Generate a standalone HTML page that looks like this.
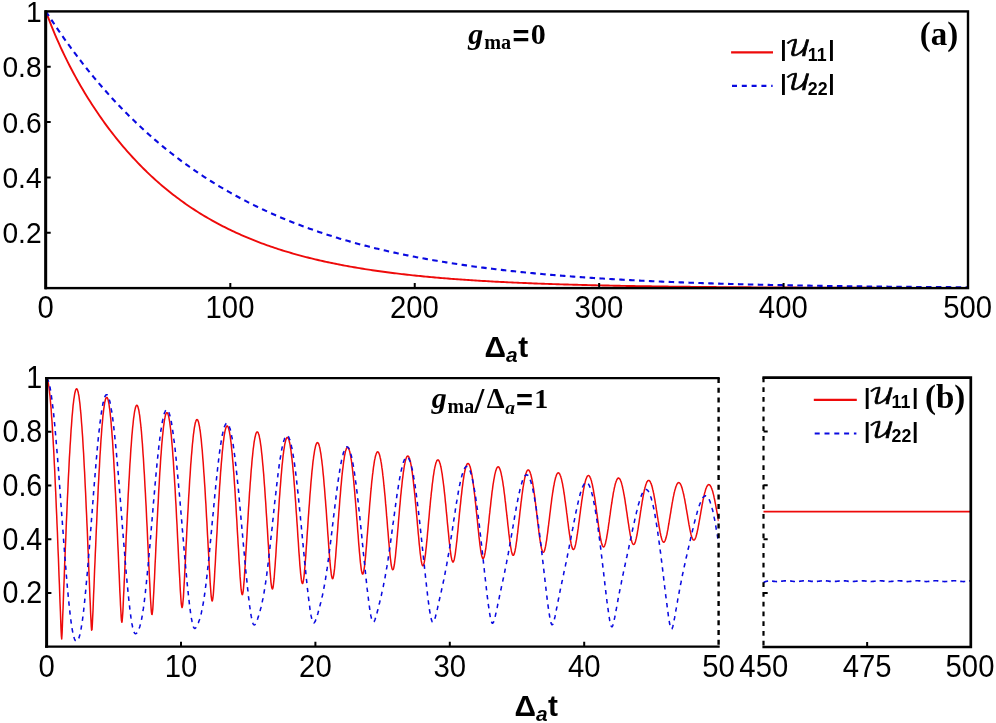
<!DOCTYPE html>
<html lang="en"><head><meta charset="utf-8"><title>Figure</title>
<style>
html,body{margin:0;padding:0;background:#fff;}
svg{display:block}
.tk{font-family:"Liberation Sans",Arial,sans-serif;font-size:29.3px;fill:#000}
.ax{font-family:"Liberation Sans",Arial,sans-serif;font-weight:bold;font-size:29.3px;fill:#000}
.ti{font-family:"Liberation Serif","Times New Roman",serif;font-weight:bold;fill:#000}
.lb{font-family:"Liberation Sans",Arial,sans-serif;font-weight:bold;font-size:22.8px;fill:#000}
.ls{font-family:"Liberation Sans",Arial,sans-serif;font-weight:bold;font-size:17.8px;fill:#000}
.sc{font-family:"DejaVu Math TeX Gyre","DejaVu Serif","Liberation Serif",serif;font-size:21.5px;fill:#000;stroke:#000;stroke-width:0.7px}
</style></head><body>
<svg width="996" height="723" viewBox="0 0 996 723">
<rect width="996" height="723" fill="#fff"/>
<clipPath id="ca"><rect x="45.9" y="11.4" width="922.1" height="276.70000000000005"/></clipPath>
<g clip-path="url(#ca)" fill="none">
<path d="M45.90,11.40 L47.74,16.38 L49.59,21.19 L51.43,25.86 L53.28,30.39 L55.12,34.79 L56.97,39.06 L58.81,43.23 L60.65,47.29 L62.50,51.25 L64.34,55.12 L66.19,58.89 L68.03,62.59 L69.87,66.20 L71.72,69.74 L73.56,73.21 L75.41,76.61 L77.25,79.94 L79.10,83.21 L80.94,86.41 L82.78,89.56 L84.63,92.65 L86.47,95.68 L88.32,98.67 L90.16,101.60 L92.00,104.47 L93.85,107.31 L95.69,110.09 L97.54,112.82 L99.38,115.52 L101.23,118.16 L103.07,120.77 L104.91,123.33 L106.76,125.85 L108.60,128.33 L110.45,130.77 L112.29,133.17 L114.14,135.54 L115.98,137.86 L117.82,140.15 L119.67,142.41 L121.51,144.63 L123.36,146.81 L125.20,148.97 L127.04,151.08 L128.89,153.17 L130.73,155.22 L132.58,157.24 L134.42,159.23 L136.27,161.19 L138.11,163.12 L139.95,165.02 L141.80,166.89 L143.64,168.74 L145.49,170.55 L147.33,172.34 L149.18,174.09 L151.02,175.83 L152.86,177.53 L154.71,179.21 L156.55,180.87 L158.40,182.50 L160.24,184.10 L162.08,185.68 L163.93,187.23 L165.77,188.77 L167.62,190.28 L169.46,191.76 L171.31,193.22 L173.15,194.67 L174.99,196.08 L176.84,197.48 L178.68,198.86 L180.53,200.21 L182.37,201.55 L184.22,202.86 L186.06,204.16 L187.90,205.43 L189.75,206.69 L191.59,207.92 L193.44,209.14 L195.28,210.34 L197.12,211.52 L198.97,212.68 L200.81,213.83 L202.66,214.96 L204.50,216.07 L206.35,217.16 L208.19,218.24 L210.03,219.30 L211.88,220.34 L213.72,221.37 L215.57,222.38 L217.41,223.38 L219.25,224.36 L221.10,225.33 L222.94,226.29 L224.79,227.22 L226.63,228.15 L228.48,229.06 L230.32,229.96 L232.16,230.84 L234.01,231.71 L235.85,232.56 L237.70,233.41 L239.54,234.24 L241.39,235.06 L243.23,235.86 L245.07,236.65 L246.92,237.44 L248.76,238.20 L250.61,238.96 L252.45,239.71 L254.29,240.44 L256.14,241.17 L257.98,241.88 L259.83,242.58 L261.67,243.27 L263.52,243.95 L265.36,244.62 L267.20,245.28 L269.05,245.93 L270.89,246.57 L272.74,247.20 L274.58,247.82 L276.43,248.44 L278.27,249.04 L280.11,249.63 L281.96,250.22 L283.80,250.79 L285.65,251.36 L287.49,251.92 L289.33,252.46 L291.18,253.01 L293.02,253.54 L294.87,254.06 L296.71,254.58 L298.56,255.09 L300.40,255.59 L302.24,256.08 L304.09,256.57 L305.93,257.05 L307.78,257.52 L309.62,257.98 L311.46,258.44 L313.31,258.89 L315.15,259.34 L317.00,259.77 L318.84,260.20 L320.69,260.63 L322.53,261.04 L324.37,261.45 L326.22,261.86 L328.06,262.26 L329.91,262.65 L331.75,263.04 L333.60,263.42 L335.44,263.79 L337.28,264.16 L339.13,264.52 L340.97,264.88 L342.82,265.23 L344.66,265.58 L346.50,265.92 L348.35,266.26 L350.19,266.59 L352.04,266.92 L353.88,267.24 L355.73,267.56 L357.57,267.87 L359.41,268.18 L361.26,268.48 L363.10,268.78 L364.95,269.07 L366.79,269.36 L368.63,269.64 L370.48,269.92 L372.32,270.20 L374.17,270.47 L376.01,270.74 L377.86,271.00 L379.70,271.26 L381.54,271.52 L383.39,271.77 L385.23,272.02 L387.08,272.26 L388.92,272.50 L390.77,272.74 L392.61,272.97 L394.45,273.20 L396.30,273.43 L398.14,273.65 L399.99,273.87 L401.83,274.09 L403.67,274.30 L405.52,274.51 L407.36,274.72 L409.21,274.92 L411.05,275.12 L412.90,275.32 L414.74,275.51 L416.58,275.70 L418.43,275.89 L420.27,276.07 L422.12,276.26 L423.96,276.44 L425.81,276.61 L427.65,276.79 L429.49,276.96 L431.34,277.13 L433.18,277.30 L435.03,277.46 L436.87,277.62 L438.71,277.78 L440.56,277.94 L442.40,278.09 L444.25,278.24 L446.09,278.39 L447.94,278.54 L449.78,278.69 L451.62,278.83 L453.47,278.97 L455.31,279.11 L457.16,279.24 L459.00,279.38 L460.84,279.51 L462.69,279.64 L464.53,279.77 L466.38,279.90 L468.22,280.02 L470.07,280.14 L471.91,280.26 L473.75,280.38 L475.60,280.50 L477.44,280.62 L479.29,280.73 L481.13,280.84 L482.98,280.95 L484.82,281.06 L486.66,281.17 L488.51,281.27 L490.35,281.38 L492.20,281.48 L494.04,281.58 L495.88,281.68 L497.73,281.78 L499.57,281.87 L501.42,281.97 L503.26,282.06 L505.11,282.15 L506.95,282.24 L508.79,282.33 L510.64,282.42 L512.48,282.50 L514.33,282.59 L516.17,282.67 L518.02,282.76 L519.86,282.84 L521.70,282.92 L523.55,282.99 L525.39,283.07 L527.24,283.15 L529.08,283.22 L530.92,283.30 L532.77,283.37 L534.61,283.44 L536.46,283.51 L538.30,283.58 L540.15,283.65 L541.99,283.72 L543.83,283.79 L545.68,283.85 L547.52,283.92 L549.37,283.98 L551.21,284.04 L553.05,284.10 L554.90,284.16 L556.74,284.22 L558.59,284.28 L560.43,284.34 L562.28,284.40 L564.12,284.45 L565.96,284.51 L567.81,284.56 L569.65,284.62 L571.50,284.67 L573.34,284.72 L575.19,284.77 L577.03,284.82 L578.87,284.87 L580.72,284.92 L582.56,284.97 L584.41,285.02 L586.25,285.07 L588.09,285.11 L589.94,285.16 L591.78,285.20 L593.63,285.25 L595.47,285.29 L597.32,285.33 L599.16,285.37 L601.00,285.42 L602.85,285.46 L604.69,285.50 L606.54,285.54 L608.38,285.57 L610.23,285.61 L612.07,285.65 L613.91,285.69 L615.76,285.72 L617.60,285.76 L619.45,285.80 L621.29,285.83 L623.13,285.87 L624.98,285.90 L626.82,285.93 L628.67,285.97 L630.51,286.00 L632.36,286.03 L634.20,286.06 L636.04,286.09 L637.89,286.12 L639.73,286.15 L641.58,286.18 L643.42,286.21 L645.26,286.24 L647.11,286.27 L648.95,286.30 L650.80,286.32 L652.64,286.35 L654.49,286.38 L656.33,286.40 L658.17,286.43 L660.02,286.45 L661.86,286.48 L663.71,286.50 L665.55,286.53 L667.40,286.55 L669.24,286.58 L671.08,286.60 L672.93,286.62 L674.77,286.64 L676.62,286.67 L678.46,286.69 L680.30,286.71 L682.15,286.73 L683.99,286.75 L685.84,286.77 L687.68,286.79 L689.53,286.81 L691.37,286.83 L693.21,286.85 L695.06,286.87 L696.90,286.89 L698.75,286.91 L700.59,286.92 L702.44,286.94 L704.28,286.96 L706.12,286.98 L707.97,286.99 L709.81,287.01 L711.66,287.03 L713.50,287.04 L715.34,287.06 L717.19,287.08 L719.03,287.09 L720.88,287.11 L722.72,287.12 L724.57,287.14 L726.41,287.15 L728.25,287.17 L730.10,287.18 L731.94,287.19 L733.79,287.21 L735.63,287.22 L737.48,287.23 L739.32,287.25 L741.16,287.26 L743.01,287.27 L744.85,287.29 L746.70,287.30 L748.54,287.31 L750.38,287.32 L752.23,287.33 L754.07,287.35 L755.92,287.36 L757.76,287.37 L759.61,287.38 L761.45,287.39 L763.29,287.40 L765.14,287.41 L766.98,287.42 L768.83,287.43 L770.67,287.44 L772.51,287.45 L774.36,287.46 L776.20,287.47 L778.05,287.48 L779.89,287.49 L781.74,287.50 L783.58,287.51 L785.42,287.52 L787.27,287.53 L789.11,287.54 L790.96,287.54 L792.80,287.55 L794.65,287.56 L796.49,287.57 L798.33,287.58 L800.18,287.59 L802.02,287.59 L803.87,287.60 L805.71,287.61 L807.55,287.62 L809.40,287.62 L811.24,287.63 L813.09,287.64 L814.93,287.64 L816.78,287.65 L818.62,287.66 L820.46,287.67 L822.31,287.67 L824.15,287.68 L826.00,287.68 L827.84,287.69 L829.68,287.70 L831.53,287.70 L833.37,287.71 L835.22,287.72 L837.06,287.72 L838.91,287.73 L840.75,287.73 L842.59,287.74 L844.44,287.74 L846.28,287.75 L848.13,287.75 L849.97,287.76 L851.82,287.76 L853.66,287.77 L855.50,287.77 L857.35,287.78 L859.19,287.78 L861.04,287.79 L862.88,287.79 L864.72,287.80 L866.57,287.80 L868.41,287.81 L870.26,287.81 L872.10,287.82 L873.95,287.82 L875.79,287.83 L877.63,287.83 L879.48,287.83 L881.32,287.84 L883.17,287.84 L885.01,287.85 L886.86,287.85 L888.70,287.85 L890.54,287.86 L892.39,287.86 L894.23,287.86 L896.08,287.87 L897.92,287.87 L899.76,287.87 L901.61,287.88 L903.45,287.88 L905.30,287.88 L907.14,287.89 L908.99,287.89 L910.83,287.89 L912.67,287.90 L914.52,287.90 L916.36,287.90 L918.21,287.91 L920.05,287.91 L921.89,287.91 L923.74,287.92 L925.58,287.92 L927.43,287.92 L929.27,287.92 L931.12,287.93 L932.96,287.93 L934.80,287.93 L936.65,287.93 L938.49,287.94 L940.34,287.94 L942.18,287.94 L944.03,287.94 L945.87,287.95 L947.71,287.95 L949.56,287.95 L951.40,287.95 L953.25,287.96 L955.09,287.96 L956.93,287.96 L958.78,287.96 L960.62,287.96 L962.47,287.97 L964.31,287.97 L966.16,287.97 L968.00,287.97" stroke="#ee0a0a" stroke-width="1.9"/>
<path d="M45.90,11.40 L47.74,14.26 L49.59,17.10 L51.43,19.91 L53.28,22.69 L55.12,25.44 L56.97,28.16 L58.81,30.86 L60.65,33.53 L62.50,36.18 L64.34,38.79 L66.19,41.39 L68.03,43.95 L69.87,46.49 L71.72,49.01 L73.56,51.50 L75.41,53.97 L77.25,56.41 L79.10,58.82 L80.94,61.22 L82.78,63.59 L84.63,65.93 L86.47,68.25 L88.32,70.55 L90.16,72.83 L92.00,75.08 L93.85,77.31 L95.69,79.52 L97.54,81.71 L99.38,83.87 L101.23,86.02 L103.07,88.14 L104.91,90.24 L106.76,92.32 L108.60,94.37 L110.45,96.41 L112.29,98.43 L114.14,100.43 L115.98,102.40 L117.82,104.36 L119.67,106.30 L121.51,108.21 L123.36,110.11 L125.20,111.99 L127.04,113.85 L128.89,115.69 L130.73,117.51 L132.58,119.32 L134.42,121.10 L136.27,122.87 L138.11,124.62 L139.95,126.35 L141.80,128.07 L143.64,129.77 L145.49,131.45 L147.33,133.11 L149.18,134.75 L151.02,136.38 L152.86,138.00 L154.71,139.59 L156.55,141.17 L158.40,142.74 L160.24,144.29 L162.08,145.82 L163.93,147.33 L165.77,148.84 L167.62,150.32 L169.46,151.79 L171.31,153.25 L173.15,154.69 L174.99,156.12 L176.84,157.53 L178.68,158.92 L180.53,160.31 L182.37,161.68 L184.22,163.03 L186.06,164.37 L187.90,165.70 L189.75,167.01 L191.59,168.31 L193.44,169.60 L195.28,170.87 L197.12,172.13 L198.97,173.38 L200.81,174.61 L202.66,175.83 L204.50,177.04 L206.35,178.24 L208.19,179.42 L210.03,180.60 L211.88,181.76 L213.72,182.90 L215.57,184.04 L217.41,185.16 L219.25,186.28 L221.10,187.38 L222.94,188.47 L224.79,189.55 L226.63,190.61 L228.48,191.67 L230.32,192.71 L232.16,193.75 L234.01,194.77 L235.85,195.78 L237.70,196.79 L239.54,197.78 L241.39,198.76 L243.23,199.73 L245.07,200.69 L246.92,201.64 L248.76,202.59 L250.61,203.52 L252.45,204.44 L254.29,205.35 L256.14,206.25 L257.98,207.15 L259.83,208.03 L261.67,208.91 L263.52,209.77 L265.36,210.63 L267.20,211.47 L269.05,212.31 L270.89,213.14 L272.74,213.96 L274.58,214.78 L276.43,215.58 L278.27,216.37 L280.11,217.16 L281.96,217.94 L283.80,218.71 L285.65,219.47 L287.49,220.23 L289.33,220.97 L291.18,221.71 L293.02,222.44 L294.87,223.17 L296.71,223.88 L298.56,224.59 L300.40,225.29 L302.24,225.98 L304.09,226.67 L305.93,227.35 L307.78,228.02 L309.62,228.68 L311.46,229.34 L313.31,229.99 L315.15,230.63 L317.00,231.27 L318.84,231.90 L320.69,232.52 L322.53,233.14 L324.37,233.75 L326.22,234.35 L328.06,234.95 L329.91,235.54 L331.75,236.12 L333.60,236.70 L335.44,237.27 L337.28,237.83 L339.13,238.39 L340.97,238.95 L342.82,239.49 L344.66,240.04 L346.50,240.57 L348.35,241.10 L350.19,241.63 L352.04,242.15 L353.88,242.66 L355.73,243.17 L357.57,243.67 L359.41,244.17 L361.26,244.66 L363.10,245.14 L364.95,245.63 L366.79,246.10 L368.63,246.57 L370.48,247.04 L372.32,247.50 L374.17,247.95 L376.01,248.40 L377.86,248.85 L379.70,249.29 L381.54,249.73 L383.39,250.16 L385.23,250.59 L387.08,251.01 L388.92,251.43 L390.77,251.84 L392.61,252.25 L394.45,252.65 L396.30,253.05 L398.14,253.45 L399.99,253.84 L401.83,254.23 L403.67,254.61 L405.52,254.99 L407.36,255.36 L409.21,255.73 L411.05,256.10 L412.90,256.46 L414.74,256.82 L416.58,257.18 L418.43,257.53 L420.27,257.87 L422.12,258.22 L423.96,258.56 L425.81,258.89 L427.65,259.22 L429.49,259.55 L431.34,259.88 L433.18,260.20 L435.03,260.52 L436.87,260.83 L438.71,261.14 L440.56,261.45 L442.40,261.75 L444.25,262.05 L446.09,262.35 L447.94,262.64 L449.78,262.94 L451.62,263.22 L453.47,263.51 L455.31,263.79 L457.16,264.07 L459.00,264.34 L460.84,264.61 L462.69,264.88 L464.53,265.15 L466.38,265.41 L468.22,265.67 L470.07,265.93 L471.91,266.19 L473.75,266.44 L475.60,266.69 L477.44,266.93 L479.29,267.18 L481.13,267.42 L482.98,267.66 L484.82,267.89 L486.66,268.12 L488.51,268.35 L490.35,268.58 L492.20,268.81 L494.04,269.03 L495.88,269.25 L497.73,269.47 L499.57,269.68 L501.42,269.90 L503.26,270.11 L505.11,270.32 L506.95,270.52 L508.79,270.73 L510.64,270.93 L512.48,271.13 L514.33,271.32 L516.17,271.52 L518.02,271.71 L519.86,271.90 L521.70,272.09 L523.55,272.27 L525.39,272.46 L527.24,272.64 L529.08,272.82 L530.92,273.00 L532.77,273.17 L534.61,273.35 L536.46,273.52 L538.30,273.69 L540.15,273.86 L541.99,274.02 L543.83,274.19 L545.68,274.35 L547.52,274.51 L549.37,274.67 L551.21,274.83 L553.05,274.98 L554.90,275.14 L556.74,275.29 L558.59,275.44 L560.43,275.59 L562.28,275.73 L564.12,275.88 L565.96,276.02 L567.81,276.16 L569.65,276.30 L571.50,276.44 L573.34,276.58 L575.19,276.72 L577.03,276.85 L578.87,276.98 L580.72,277.11 L582.56,277.24 L584.41,277.37 L586.25,277.50 L588.09,277.62 L589.94,277.75 L591.78,277.87 L593.63,277.99 L595.47,278.11 L597.32,278.23 L599.16,278.34 L601.00,278.46 L602.85,278.57 L604.69,278.69 L606.54,278.80 L608.38,278.91 L610.23,279.02 L612.07,279.12 L613.91,279.23 L615.76,279.34 L617.60,279.44 L619.45,279.54 L621.29,279.64 L623.13,279.75 L624.98,279.84 L626.82,279.94 L628.67,280.04 L630.51,280.14 L632.36,280.23 L634.20,280.32 L636.04,280.42 L637.89,280.51 L639.73,280.60 L641.58,280.69 L643.42,280.78 L645.26,280.87 L647.11,280.95 L648.95,281.04 L650.80,281.12 L652.64,281.21 L654.49,281.29 L656.33,281.37 L658.17,281.45 L660.02,281.53 L661.86,281.61 L663.71,281.69 L665.55,281.76 L667.40,281.84 L669.24,281.92 L671.08,281.99 L672.93,282.06 L674.77,282.14 L676.62,282.21 L678.46,282.28 L680.30,282.35 L682.15,282.42 L683.99,282.49 L685.84,282.55 L687.68,282.62 L689.53,282.69 L691.37,282.75 L693.21,282.82 L695.06,282.88 L696.90,282.94 L698.75,283.01 L700.59,283.07 L702.44,283.13 L704.28,283.19 L706.12,283.25 L707.97,283.31 L709.81,283.37 L711.66,283.42 L713.50,283.48 L715.34,283.54 L717.19,283.59 L719.03,283.65 L720.88,283.70 L722.72,283.75 L724.57,283.81 L726.41,283.86 L728.25,283.91 L730.10,283.96 L731.94,284.01 L733.79,284.06 L735.63,284.11 L737.48,284.16 L739.32,284.21 L741.16,284.25 L743.01,284.30 L744.85,284.35 L746.70,284.39 L748.54,284.44 L750.38,284.48 L752.23,284.53 L754.07,284.57 L755.92,284.62 L757.76,284.66 L759.61,284.70 L761.45,284.74 L763.29,284.78 L765.14,284.82 L766.98,284.86 L768.83,284.90 L770.67,284.94 L772.51,284.98 L774.36,285.02 L776.20,285.06 L778.05,285.10 L779.89,285.13 L781.74,285.17 L783.58,285.21 L785.42,285.24 L787.27,285.28 L789.11,285.31 L790.96,285.35 L792.80,285.38 L794.65,285.41 L796.49,285.45 L798.33,285.48 L800.18,285.51 L802.02,285.54 L803.87,285.58 L805.71,285.61 L807.55,285.64 L809.40,285.67 L811.24,285.70 L813.09,285.73 L814.93,285.76 L816.78,285.79 L818.62,285.81 L820.46,285.84 L822.31,285.87 L824.15,285.90 L826.00,285.93 L827.84,285.95 L829.68,285.98 L831.53,286.01 L833.37,286.03 L835.22,286.06 L837.06,286.08 L838.91,286.11 L840.75,286.13 L842.59,286.16 L844.44,286.18 L846.28,286.21 L848.13,286.23 L849.97,286.25 L851.82,286.28 L853.66,286.30 L855.50,286.32 L857.35,286.34 L859.19,286.37 L861.04,286.39 L862.88,286.41 L864.72,286.43 L866.57,286.45 L868.41,286.47 L870.26,286.49 L872.10,286.51 L873.95,286.53 L875.79,286.55 L877.63,286.57 L879.48,286.59 L881.32,286.61 L883.17,286.63 L885.01,286.65 L886.86,286.67 L888.70,286.68 L890.54,286.70 L892.39,286.72 L894.23,286.74 L896.08,286.75 L897.92,286.77 L899.76,286.79 L901.61,286.80 L903.45,286.82 L905.30,286.84 L907.14,286.85 L908.99,286.87 L910.83,286.88 L912.67,286.90 L914.52,286.91 L916.36,286.93 L918.21,286.94 L920.05,286.96 L921.89,286.97 L923.74,286.99 L925.58,287.00 L927.43,287.02 L929.27,287.03 L931.12,287.04 L932.96,287.06 L934.80,287.07 L936.65,287.08 L938.49,287.10 L940.34,287.11 L942.18,287.12 L944.03,287.13 L945.87,287.15 L947.71,287.16 L949.56,287.17 L951.40,287.18 L953.25,287.19 L955.09,287.21 L956.93,287.22 L958.78,287.23 L960.62,287.24 L962.47,287.25 L964.31,287.26 L966.16,287.27 L968.00,287.28" stroke="#0a0ae0" stroke-width="2.1" stroke-dasharray="5.5 4.4"/>
</g>
<rect x="45.9" y="11.4" width="922.1" height="276.70000000000005" fill="none" stroke="#000" stroke-width="2.4"/>
<path d="M45.65,10.200000000000001 V289.3" fill="none" stroke="#000" stroke-width="2.9"/>
<path d="M230.32,288.1 V283.1 M414.74,288.1 V283.1 M599.16,288.1 V283.1 M783.58,288.1 V283.1 M45.9,232.76 H50.699999999999996 M45.9,177.42 H50.699999999999996 M45.9,122.08 H50.699999999999996 M45.9,66.74 H50.699999999999996" stroke="#000" stroke-width="2" fill="none"/>
<text class="tk" transform="translate(41.6 22.0) scale(0.963 1.035)" text-anchor="end">1</text>
<text class="tk" transform="translate(41.6 77.3) scale(0.963 1.035)" text-anchor="end">0.8</text>
<text class="tk" transform="translate(41.6 132.7) scale(0.963 1.035)" text-anchor="end">0.6</text>
<text class="tk" transform="translate(41.6 188.0) scale(0.963 1.035)" text-anchor="end">0.4</text>
<text class="tk" transform="translate(41.6 243.4) scale(0.963 1.035)" text-anchor="end">0.2</text>
<text class="tk" transform="translate(45.6 318.4) scale(1.000 1.045)" text-anchor="middle">0</text>
<text class="tk" transform="translate(230.0 318.4) scale(1.000 1.045)" text-anchor="middle">100</text>
<text class="tk" transform="translate(414.4 318.4) scale(1.000 1.045)" text-anchor="middle">200</text>
<text class="tk" transform="translate(598.9 318.4) scale(1.000 1.045)" text-anchor="middle">300</text>
<text class="tk" transform="translate(783.3 318.4) scale(1.000 1.045)" text-anchor="middle">400</text>
<text class="tk" transform="translate(967.7 318.4) scale(1.000 1.045)" text-anchor="middle">500</text>
<text class="ax" transform="translate(484.6 356.6) scale(1.02 0.98)">Δ<tspan font-style="italic" font-size="20.5px" dy="5">a</tspan><tspan dy="-5" dx="0.5">t</tspan></text>
<text class="ti" y="43.8" font-size="30px"><tspan x="468.3" font-style="italic">g</tspan><tspan x="484.2" dy="4.8" font-size="20.2px">ma</tspan><tspan x="512.6" dy="-2.6" font-family="Liberation Sans" font-size="29px">=</tspan><tspan x="530.7" dy="-2.2" font-size="30px">0</tspan></text>
<text class="ti" x="919.7" y="45.3" font-size="33px">(a)</text>
<path d="M731.1,52.3 H773.0" stroke="#ee0a0a" stroke-width="2.3" fill="none"/>
<path d="M732.0,85.9 H772.6" stroke="#0a0ae0" stroke-width="2.1" stroke-dasharray="5 4.8" fill="none"/>
<text class="lb" x="780.3" y="55.9">|</text>
<text class="sc" transform="translate(784.9 56.0) scale(1.22 1)">𝒰</text>
<text class="ls" x="807.8" y="60.5">11</text>
<text class="lb" x="828.3" y="55.9">|</text>
<text class="lb" x="780.3" y="90.0">|</text>
<text class="sc" transform="translate(784.9 90.1) scale(1.22 1)">𝒰</text>
<text class="ls" x="807.8" y="94.6">22</text>
<text class="lb" x="828.3" y="90.0">|</text>
<clipPath id="cb"><rect x="46.6" y="378.1" width="672.0" height="268.6"/></clipPath>
<g clip-path="url(#cb)" fill="none" stroke-linejoin="round">
<path d="M46.6,378.1 L46.9,378.4 L47.3,379.1 L47.6,380.1 L47.9,381.4 L48.3,383.1 L48.6,385.0 L49.0,387.3 L49.3,389.9 L49.6,392.8 L50.0,396.0 L50.3,399.5 L50.6,403.3 L51.0,407.4 L51.3,411.8 L51.6,416.5 L52.0,421.4 L52.3,426.6 L52.6,432.1 L53.0,437.9 L53.3,443.8 L53.7,450.1 L54.0,456.5 L54.3,463.2 L54.7,470.1 L55.0,477.2 L55.3,484.5 L55.7,492.0 L56.0,499.7 L56.3,507.5 L56.7,515.6 L57.0,523.7 L57.4,532.0 L57.7,540.5 L58.0,549.0 L58.4,557.7 L58.7,566.4 L59.0,575.3 L59.4,584.2 L59.7,593.1 L60.0,602.1 L60.4,611.1 L60.7,619.9 L61.0,628.6 L61.4,636.2 L61.7,638.9 L62.1,633.3 L62.4,625.1 L62.7,616.3 L63.1,607.5 L63.4,598.6 L63.7,589.7 L64.1,580.8 L64.4,572.1 L64.7,563.4 L65.1,554.8 L65.4,546.4 L65.8,538.1 L66.1,529.9 L66.4,521.8 L66.8,513.9 L67.1,506.2 L67.4,498.7 L67.8,491.3 L68.1,484.1 L68.4,477.2 L68.8,470.4 L69.1,463.9 L69.4,457.6 L69.8,451.6 L70.1,445.7 L70.5,440.2 L70.8,434.9 L71.1,429.8 L71.5,425.1 L71.8,420.6 L72.1,416.3 L72.5,412.4 L72.8,408.8 L73.1,405.4 L73.5,402.4 L73.8,399.6 L74.2,397.2 L74.5,395.1 L74.8,393.2 L75.2,391.7 L75.5,390.5 L75.8,389.7 L76.2,389.1 L76.5,388.8 L76.8,388.9 L77.2,389.3 L77.5,390.0 L77.8,391.0 L78.2,392.3 L78.5,394.0 L78.9,395.9 L79.2,398.2 L79.5,400.7 L79.9,403.6 L80.2,406.7 L80.5,410.2 L80.9,413.9 L81.2,417.9 L81.5,422.2 L81.9,426.7 L82.2,431.5 L82.6,436.6 L82.9,442.0 L83.2,447.5 L83.6,453.3 L83.9,459.4 L84.2,465.7 L84.6,472.1 L84.9,478.8 L85.2,485.7 L85.6,492.8 L85.9,500.0 L86.2,507.4 L86.6,515.0 L86.9,522.7 L87.3,530.6 L87.6,538.6 L87.9,546.7 L88.3,554.8 L88.6,563.1 L88.9,571.4 L89.3,579.8 L89.6,588.2 L89.9,596.5 L90.3,604.7 L90.6,612.7 L91.0,620.1 L91.3,626.4 L91.6,630.2 L92.0,629.6 L92.3,625.1 L92.6,618.4 L93.0,610.9 L93.3,602.9 L93.6,594.7 L94.0,586.4 L94.3,578.2 L94.6,569.9 L95.0,561.7 L95.3,553.6 L95.7,545.6 L96.0,537.7 L96.3,529.9 L96.7,522.3 L97.0,514.8 L97.3,507.4 L97.7,500.2 L98.0,493.2 L98.3,486.4 L98.7,479.8 L99.0,473.4 L99.4,467.2 L99.7,461.3 L100.0,455.5 L100.4,450.0 L100.7,444.8 L101.0,439.8 L101.4,435.0 L101.7,430.5 L102.0,426.3 L102.4,422.4 L102.7,418.7 L103.0,415.3 L103.4,412.2 L103.7,409.4 L104.1,406.8 L104.4,404.6 L104.7,402.7 L105.1,401.0 L105.4,399.7 L105.7,398.6 L106.1,397.9 L106.4,397.5 L106.7,397.4 L107.1,397.5 L107.4,398.0 L107.8,398.8 L108.1,399.9 L108.4,401.3 L108.8,403.0 L109.1,405.0 L109.4,407.3 L109.8,409.8 L110.1,412.7 L110.4,415.8 L110.8,419.2 L111.1,422.9 L111.4,426.9 L111.8,431.1 L112.1,435.6 L112.5,440.3 L112.8,445.3 L113.1,450.5 L113.5,455.9 L113.8,461.6 L114.1,467.5 L114.5,473.6 L114.8,479.9 L115.1,486.4 L115.5,493.0 L115.8,499.9 L116.2,506.9 L116.5,514.0 L116.8,521.3 L117.2,528.7 L117.5,536.2 L117.8,543.9 L118.2,551.6 L118.5,559.3 L118.8,567.1 L119.2,574.9 L119.5,582.7 L119.8,590.3 L120.2,597.8 L120.5,604.9 L120.9,611.5 L121.2,617.1 L121.5,620.9 L121.9,622.3 L122.2,620.8 L122.5,616.8 L122.9,611.2 L123.2,604.6 L123.5,597.5 L123.9,590.1 L124.2,582.5 L124.6,574.8 L124.9,567.1 L125.2,559.5 L125.6,551.8 L125.9,544.3 L126.2,536.8 L126.6,529.5 L126.9,522.2 L127.2,515.1 L127.6,508.2 L127.9,501.4 L128.2,494.8 L128.6,488.3 L128.9,482.1 L129.3,476.0 L129.6,470.1 L129.9,464.5 L130.3,459.1 L130.6,453.9 L130.9,448.9 L131.3,444.2 L131.6,439.8 L131.9,435.6 L132.3,431.6 L132.6,427.9 L133.0,424.5 L133.3,421.3 L133.6,418.4 L134.0,415.8 L134.3,413.5 L134.6,411.5 L135.0,409.7 L135.3,408.3 L135.6,407.1 L136.0,406.2 L136.3,405.6 L136.6,405.3 L137.0,405.3 L137.3,405.6 L137.7,406.2 L138.0,407.1 L138.3,408.2 L138.7,409.7 L139.0,411.4 L139.3,413.4 L139.7,415.7 L140.0,418.3 L140.3,421.2 L140.7,424.3 L141.0,427.7 L141.4,431.3 L141.7,435.2 L142.0,439.4 L142.4,443.7 L142.7,448.4 L143.0,453.2 L143.4,458.3 L143.7,463.6 L144.0,469.1 L144.4,474.8 L144.7,480.8 L145.0,486.8 L145.4,493.1 L145.7,499.5 L146.1,506.1 L146.4,512.8 L146.7,519.7 L147.1,526.7 L147.4,533.7 L147.7,540.9 L148.1,548.1 L148.4,555.3 L148.7,562.6 L149.1,569.9 L149.4,577.0 L149.8,584.1 L150.1,590.9 L150.4,597.3 L150.8,603.2 L151.1,608.3 L151.4,612.2 L151.8,614.3 L152.1,614.5 L152.4,612.5 L152.8,608.9 L153.1,604.0 L153.4,598.2 L153.8,591.8 L154.1,585.1 L154.5,578.2 L154.8,571.1 L155.1,564.0 L155.5,556.8 L155.8,549.7 L156.1,542.6 L156.5,535.6 L156.8,528.7 L157.1,521.9 L157.5,515.2 L157.8,508.6 L158.2,502.2 L158.5,495.9 L158.8,489.9 L159.2,484.0 L159.5,478.2 L159.8,472.7 L160.2,467.4 L160.5,462.3 L160.8,457.4 L161.2,452.8 L161.5,448.3 L161.8,444.1 L162.2,440.2 L162.5,436.5 L162.9,433.1 L163.2,429.9 L163.5,426.9 L163.9,424.3 L164.2,421.9 L164.5,419.8 L164.9,417.9 L165.2,416.3 L165.5,415.0 L165.9,414.0 L166.2,413.3 L166.6,412.8 L166.9,412.7 L167.2,412.8 L167.6,413.2 L167.9,413.8 L168.2,414.8 L168.6,416.0 L168.9,417.5 L169.2,419.3 L169.6,421.3 L169.9,423.6 L170.2,426.2 L170.6,429.0 L170.9,432.1 L171.3,435.5 L171.6,439.1 L171.9,442.9 L172.3,447.0 L172.6,451.3 L172.9,455.8 L173.3,460.5 L173.6,465.5 L173.9,470.6 L174.3,475.9 L174.6,481.5 L175.0,487.2 L175.3,493.1 L175.6,499.1 L176.0,505.3 L176.3,511.6 L176.6,518.0 L177.0,524.5 L177.3,531.1 L177.6,537.8 L178.0,544.6 L178.3,551.4 L178.6,558.1 L179.0,564.8 L179.3,571.5 L179.7,577.9 L180.0,584.2 L180.3,590.1 L180.7,595.5 L181.0,600.2 L181.3,604.0 L181.7,606.5 L182.0,607.5 L182.3,607.0 L182.7,604.9 L183.0,601.5 L183.4,597.1 L183.7,591.9 L184.0,586.2 L184.4,580.1 L184.7,573.7 L185.0,567.2 L185.4,560.7 L185.7,554.0 L186.0,547.4 L186.4,540.7 L186.7,534.2 L187.0,527.7 L187.4,521.3 L187.7,515.0 L188.1,508.8 L188.4,502.8 L188.7,496.9 L189.1,491.1 L189.4,485.6 L189.7,480.2 L190.1,475.0 L190.4,470.0 L190.7,465.2 L191.1,460.6 L191.4,456.3 L191.8,452.1 L192.1,448.2 L192.4,444.5 L192.8,441.1 L193.1,437.8 L193.4,434.9 L193.8,432.2 L194.1,429.7 L194.4,427.5 L194.8,425.6 L195.1,423.9 L195.4,422.5 L195.8,421.4 L196.1,420.5 L196.5,419.9 L196.8,419.6 L197.1,419.5 L197.5,419.8 L197.8,420.2 L198.1,421.0 L198.5,422.0 L198.8,423.3 L199.1,424.8 L199.5,426.6 L199.8,428.7 L200.2,431.0 L200.5,433.5 L200.8,436.4 L201.2,439.4 L201.5,442.7 L201.8,446.2 L202.2,450.0 L202.5,454.0 L202.8,458.1 L203.2,462.6 L203.5,467.2 L203.8,472.0 L204.2,476.9 L204.5,482.1 L204.9,487.4 L205.2,492.9 L205.5,498.6 L205.9,504.3 L206.2,510.3 L206.5,516.3 L206.9,522.4 L207.2,528.6 L207.5,534.8 L207.9,541.1 L208.2,547.4 L208.6,553.7 L208.9,560.0 L209.2,566.1 L209.6,572.1 L209.9,577.8 L210.2,583.3 L210.6,588.2 L210.9,592.7 L211.2,596.3 L211.6,599.0 L211.9,600.6 L212.2,600.9 L212.6,599.9 L212.9,597.8 L213.3,594.6 L213.6,590.5 L213.9,585.9 L214.3,580.7 L214.6,575.1 L214.9,569.3 L215.3,563.3 L215.6,557.2 L215.9,551.1 L216.3,544.9 L216.6,538.7 L217.0,532.6 L217.3,526.5 L217.6,520.5 L218.0,514.6 L218.3,508.8 L218.6,503.1 L219.0,497.6 L219.3,492.2 L219.6,487.0 L220.0,481.9 L220.3,477.1 L220.6,472.4 L221.0,467.9 L221.3,463.6 L221.7,459.5 L222.0,455.6 L222.3,451.9 L222.7,448.5 L223.0,445.3 L223.3,442.3 L223.7,439.6 L224.0,437.1 L224.3,434.8 L224.7,432.8 L225.0,431.1 L225.4,429.6 L225.7,428.3 L226.0,427.4 L226.4,426.6 L226.7,426.2 L227.0,425.9 L227.4,426.0 L227.7,426.3 L228.0,426.8 L228.4,427.7 L228.7,428.7 L229.0,430.1 L229.4,431.6 L229.7,433.4 L230.1,435.5 L230.4,437.8 L230.7,440.4 L231.1,443.1 L231.4,446.2 L231.7,449.4 L232.1,452.8 L232.4,456.5 L232.7,460.4 L233.1,464.5 L233.4,468.7 L233.8,473.2 L234.1,477.8 L234.4,482.7 L234.8,487.6 L235.1,492.8 L235.4,498.0 L235.8,503.4 L236.1,508.9 L236.4,514.6 L236.8,520.3 L237.1,526.1 L237.4,531.9 L237.8,537.8 L238.1,543.6 L238.5,549.5 L238.8,555.3 L239.1,561.0 L239.5,566.5 L239.8,571.8 L240.1,576.9 L240.5,581.5 L240.8,585.7 L241.1,589.2 L241.5,592.0 L241.8,593.8 L242.2,594.7 L242.5,594.5 L242.8,593.3 L243.2,591.1 L243.5,588.1 L243.8,584.4 L244.2,580.1 L244.5,575.4 L244.8,570.3 L245.2,565.0 L245.5,559.5 L245.8,553.9 L246.2,548.1 L246.5,542.4 L246.9,536.7 L247.2,530.9 L247.5,525.2 L247.9,519.6 L248.2,514.1 L248.5,508.7 L248.9,503.3 L249.2,498.2 L249.5,493.1 L249.9,488.2 L250.2,483.5 L250.6,478.9 L250.9,474.5 L251.2,470.3 L251.6,466.3 L251.9,462.4 L252.2,458.8 L252.6,455.4 L252.9,452.2 L253.2,449.2 L253.6,446.5 L253.9,444.0 L254.2,441.7 L254.6,439.6 L254.9,437.8 L255.3,436.2 L255.6,434.9 L255.9,433.8 L256.3,432.9 L256.6,432.3 L256.9,432.0 L257.3,431.9 L257.6,432.0 L257.9,432.4 L258.3,433.0 L258.6,433.9 L259.0,435.0 L259.3,436.4 L259.6,438.0 L260.0,439.8 L260.3,441.9 L260.6,444.2 L261.0,446.7 L261.3,449.4 L261.6,452.4 L262.0,455.6 L262.3,458.9 L262.6,462.5 L263.0,466.3 L263.3,470.2 L263.7,474.4 L264.0,478.7 L264.3,483.2 L264.7,487.8 L265.0,492.6 L265.3,497.5 L265.7,502.5 L266.0,507.7 L266.3,512.9 L266.7,518.3 L267.0,523.6 L267.4,529.1 L267.7,534.6 L268.0,540.0 L268.4,545.5 L268.7,550.8 L269.0,556.1 L269.4,561.3 L269.7,566.2 L270.0,570.9 L270.4,575.2 L270.7,579.2 L271.0,582.6 L271.4,585.3 L271.7,587.4 L272.1,588.6 L272.4,589.0 L272.7,588.5 L273.1,587.2 L273.4,585.0 L273.7,582.1 L274.1,578.7 L274.4,574.8 L274.7,570.4 L275.1,565.7 L275.4,560.8 L275.8,555.8 L276.1,550.5 L276.4,545.3 L276.8,539.9 L277.1,534.6 L277.4,529.2 L277.8,523.9 L278.1,518.7 L278.4,513.5 L278.8,508.4 L279.1,503.5 L279.4,498.6 L279.8,493.9 L280.1,489.3 L280.5,484.8 L280.8,480.6 L281.1,476.5 L281.5,472.5 L281.8,468.8 L282.1,465.2 L282.5,461.8 L282.8,458.7 L283.1,455.7 L283.5,452.9 L283.8,450.4 L284.2,448.1 L284.5,446.0 L284.8,444.1 L285.2,442.5 L285.5,441.0 L285.8,439.9 L286.2,438.9 L286.5,438.2 L286.8,437.7 L287.2,437.5 L287.5,437.4 L287.8,437.7 L288.2,438.1 L288.5,438.8 L288.9,439.7 L289.2,440.9 L289.5,442.3 L289.9,443.9 L290.2,445.7 L290.5,447.8 L290.9,450.1 L291.2,452.6 L291.5,455.3 L291.9,458.2 L292.2,461.3 L292.6,464.5 L292.9,468.0 L293.2,471.7 L293.6,475.5 L293.9,479.5 L294.2,483.7 L294.6,488.0 L294.9,492.4 L295.2,497.0 L295.6,501.7 L295.9,506.5 L296.2,511.4 L296.6,516.3 L296.9,521.4 L297.3,526.4 L297.6,531.5 L297.9,536.6 L298.3,541.7 L298.6,546.7 L298.9,551.6 L299.3,556.4 L299.6,561.0 L299.9,565.4 L300.3,569.4 L300.6,573.1 L301.0,576.4 L301.3,579.2 L301.6,581.3 L302.0,582.8 L302.3,583.6 L302.6,583.6 L303.0,582.9 L303.3,581.4 L303.6,579.3 L304.0,576.6 L304.3,573.4 L304.6,569.7 L305.0,565.7 L305.3,561.4 L305.7,556.9 L306.0,552.2 L306.3,547.4 L306.7,542.5 L307.0,537.5 L307.3,532.5 L307.7,527.5 L308.0,522.6 L308.3,517.7 L308.7,512.9 L309.0,508.1 L309.4,503.5 L309.7,498.9 L310.0,494.5 L310.4,490.2 L310.7,486.1 L311.0,482.1 L311.4,478.2 L311.7,474.6 L312.0,471.1 L312.4,467.8 L312.7,464.6 L313.0,461.7 L313.4,458.9 L313.7,456.4 L314.1,454.1 L314.4,451.9 L314.7,450.0 L315.1,448.3 L315.4,446.8 L315.7,445.6 L316.1,444.5 L316.4,443.7 L316.7,443.1 L317.1,442.7 L317.4,442.6 L317.8,442.7 L318.1,443.0 L318.4,443.5 L318.8,444.2 L319.1,445.2 L319.4,446.4 L319.8,447.8 L320.1,449.4 L320.4,451.3 L320.8,453.3 L321.1,455.5 L321.4,458.0 L321.8,460.6 L322.1,463.5 L322.5,466.5 L322.8,469.7 L323.1,473.1 L323.5,476.6 L323.8,480.3 L324.1,484.2 L324.5,488.2 L324.8,492.3 L325.1,496.5 L325.5,500.9 L325.8,505.4 L326.2,509.9 L326.5,514.5 L326.8,519.2 L327.2,523.9 L327.5,528.7 L327.8,533.4 L328.2,538.1 L328.5,542.8 L328.8,547.4 L329.2,551.8 L329.5,556.1 L329.8,560.2 L330.2,564.0 L330.5,567.6 L330.9,570.7 L331.2,573.4 L331.5,575.6 L331.9,577.3 L332.2,578.3 L332.5,578.7 L332.9,578.5 L333.2,577.6 L333.5,576.1 L333.9,574.0 L334.2,571.4 L334.6,568.4 L334.9,565.0 L335.2,561.3 L335.6,557.3 L335.9,553.1 L336.2,548.8 L336.6,544.3 L336.9,539.8 L337.2,535.2 L337.6,530.5 L337.9,525.9 L338.2,521.3 L338.6,516.7 L338.9,512.2 L339.3,507.8 L339.6,503.5 L339.9,499.2 L340.3,495.1 L340.6,491.1 L340.9,487.2 L341.3,483.5 L341.6,479.9 L341.9,476.5 L342.3,473.2 L342.6,470.1 L343.0,467.2 L343.3,464.5 L343.6,462.0 L344.0,459.6 L344.3,457.5 L344.6,455.5 L345.0,453.8 L345.3,452.2 L345.6,450.9 L346.0,449.8 L346.3,448.9 L346.6,448.2 L347.0,447.7 L347.3,447.4 L347.7,447.4 L348.0,447.5 L348.3,447.9 L348.7,448.5 L349.0,449.3 L349.3,450.3 L349.7,451.5 L350.0,452.9 L350.3,454.6 L350.7,456.4 L351.0,458.4 L351.4,460.6 L351.7,463.0 L352.0,465.6 L352.4,468.4 L352.7,471.3 L353.0,474.4 L353.4,477.7 L353.7,481.1 L354.0,484.7 L354.4,488.4 L354.7,492.2 L355.0,496.1 L355.4,500.2 L355.7,504.3 L356.1,508.6 L356.4,512.9 L356.7,517.2 L357.1,521.6 L357.4,526.0 L357.7,530.4 L358.1,534.8 L358.4,539.2 L358.7,543.4 L359.1,547.6 L359.4,551.6 L359.8,555.5 L360.1,559.1 L360.4,562.4 L360.8,565.4 L361.1,568.1 L361.4,570.3 L361.8,572.0 L362.1,573.3 L362.4,573.9 L362.8,574.1 L363.1,573.6 L363.4,572.6 L363.8,571.1 L364.1,569.1 L364.5,566.6 L364.8,563.8 L365.1,560.6 L365.5,557.2 L365.8,553.5 L366.1,549.6 L366.5,545.6 L366.8,541.4 L367.1,537.2 L367.5,532.9 L367.8,528.6 L368.2,524.3 L368.5,520.0 L368.8,515.8 L369.2,511.6 L369.5,507.4 L369.8,503.4 L370.2,499.4 L370.5,495.6 L370.8,491.8 L371.2,488.2 L371.5,484.8 L371.8,481.4 L372.2,478.3 L372.5,475.2 L372.9,472.4 L373.2,469.7 L373.5,467.2 L373.9,464.8 L374.2,462.7 L374.5,460.7 L374.9,458.9 L375.2,457.3 L375.5,456.0 L375.9,454.8 L376.2,453.8 L376.6,453.0 L376.9,452.4 L377.2,452.0 L377.6,451.8 L377.9,451.9 L378.2,452.1 L378.6,452.5 L378.9,453.2 L379.2,454.0 L379.6,455.1 L379.9,456.3 L380.2,457.7 L380.6,459.3 L380.9,461.2 L381.3,463.1 L381.6,465.3 L381.9,467.7 L382.3,470.2 L382.6,472.9 L382.9,475.7 L383.3,478.7 L383.6,481.9 L383.9,485.2 L384.3,488.6 L384.6,492.1 L385.0,495.8 L385.3,499.5 L385.6,503.4 L386.0,507.3 L386.3,511.3 L386.6,515.4 L387.0,519.5 L387.3,523.6 L387.6,527.7 L388.0,531.8 L388.3,535.8 L388.6,539.8 L389.0,543.7 L389.3,547.5 L389.7,551.1 L390.0,554.5 L390.3,557.6 L390.7,560.5 L391.0,563.1 L391.3,565.3 L391.7,567.1 L392.0,568.5 L392.3,569.3 L392.7,569.7 L393.0,569.7 L393.4,569.1 L393.7,568.0 L394.0,566.5 L394.4,564.5 L394.7,562.2 L395.0,559.5 L395.4,556.6 L395.7,553.3 L396.0,549.9 L396.4,546.3 L396.7,542.6 L397.0,538.7 L397.4,534.8 L397.7,530.8 L398.1,526.8 L398.4,522.8 L398.7,518.8 L399.1,514.8 L399.4,510.9 L399.7,507.1 L400.1,503.3 L400.4,499.6 L400.7,496.0 L401.1,492.6 L401.4,489.2 L401.8,486.0 L402.1,482.9 L402.4,479.9 L402.8,477.1 L403.1,474.5 L403.4,472.0 L403.8,469.7 L404.1,467.5 L404.4,465.5 L404.8,463.7 L405.1,462.1 L405.4,460.7 L405.8,459.4 L406.1,458.4 L406.5,457.5 L406.8,456.8 L407.1,456.4 L407.5,456.1 L407.8,456.0 L408.1,456.1 L408.5,456.4 L408.8,456.9 L409.1,457.6 L409.5,458.4 L409.8,459.5 L410.2,460.7 L410.5,462.2 L410.8,463.8 L411.2,465.6 L411.5,467.5 L411.8,469.7 L412.2,472.0 L412.5,474.4 L412.8,477.0 L413.2,479.8 L413.5,482.7 L413.8,485.7 L414.2,488.9 L414.5,492.1 L414.9,495.5 L415.2,499.0 L415.5,502.6 L415.9,506.2 L416.2,509.9 L416.5,513.7 L416.9,517.5 L417.2,521.3 L417.5,525.2 L417.9,529.0 L418.2,532.8 L418.6,536.5 L418.9,540.1 L419.2,543.6 L419.6,547.0 L419.9,550.2 L420.2,553.2 L420.6,556.0 L420.9,558.5 L421.2,560.7 L421.6,562.5 L421.9,563.9 L422.2,565.0 L422.6,565.6 L422.9,565.8 L423.3,565.5 L423.6,564.8 L423.9,563.7 L424.3,562.2 L424.6,560.3 L424.9,558.1 L425.3,555.6 L425.6,552.8 L425.9,549.8 L426.3,546.6 L426.6,543.2 L427.0,539.7 L427.3,536.2 L427.6,532.5 L428.0,528.8 L428.3,525.1 L428.6,521.4 L429.0,517.6 L429.3,514.0 L429.6,510.3 L430.0,506.7 L430.3,503.2 L430.6,499.8 L431.0,496.4 L431.3,493.2 L431.7,490.1 L432.0,487.1 L432.3,484.2 L432.7,481.5 L433.0,478.9 L433.3,476.4 L433.7,474.1 L434.0,472.0 L434.3,470.0 L434.7,468.2 L435.0,466.6 L435.4,465.1 L435.7,463.8 L436.0,462.7 L436.4,461.8 L436.7,461.0 L437.0,460.5 L437.4,460.1 L437.7,459.9 L438.0,459.9 L438.4,460.0 L438.7,460.4 L439.0,460.9 L439.4,461.7 L439.7,462.6 L440.1,463.6 L440.4,464.9 L440.7,466.3 L441.1,467.9 L441.4,469.7 L441.7,471.6 L442.1,473.7 L442.4,475.9 L442.7,478.3 L443.1,480.8 L443.4,483.5 L443.8,486.3 L444.1,489.2 L444.4,492.2 L444.8,495.3 L445.1,498.5 L445.4,501.9 L445.8,505.2 L446.1,508.7 L446.4,512.2 L446.8,515.7 L447.1,519.3 L447.4,522.8 L447.8,526.4 L448.1,529.9 L448.5,533.4 L448.8,536.8 L449.1,540.1 L449.5,543.3 L449.8,546.3 L450.1,549.2 L450.5,551.8 L450.8,554.2 L451.1,556.3 L451.5,558.2 L451.8,559.7 L452.2,560.8 L452.5,561.6 L452.8,562.0 L453.2,562.0 L453.5,561.6 L453.8,560.8 L454.2,559.7 L454.5,558.2 L454.8,556.4 L455.2,554.3 L455.5,551.9 L455.8,549.3 L456.2,546.5 L456.5,543.5 L456.9,540.4 L457.2,537.1 L457.5,533.8 L457.9,530.4 L458.2,527.0 L458.5,523.5 L458.9,520.0 L459.2,516.6 L459.5,513.1 L459.9,509.7 L460.2,506.4 L460.6,503.1 L460.9,499.9 L461.2,496.8 L461.6,493.8 L461.9,490.9 L462.2,488.1 L462.6,485.5 L462.9,483.0 L463.2,480.6 L463.6,478.3 L463.9,476.2 L464.2,474.2 L464.6,472.4 L464.9,470.8 L465.3,469.3 L465.6,467.9 L465.9,466.8 L466.3,465.8 L466.6,465.0 L466.9,464.3 L467.3,463.9 L467.6,463.6 L467.9,463.5 L468.3,463.5 L468.6,463.8 L469.0,464.2 L469.3,464.7 L469.6,465.5 L470.0,466.4 L470.3,467.5 L470.6,468.7 L471.0,470.2 L471.3,471.7 L471.6,473.5 L472.0,475.3 L472.3,477.4 L472.6,479.5 L473.0,481.8 L473.3,484.3 L473.7,486.8 L474.0,489.5 L474.3,492.3 L474.7,495.2 L475.0,498.2 L475.3,501.2 L475.7,504.4 L476.0,507.6 L476.3,510.8 L476.7,514.1 L477.0,517.4 L477.4,520.7 L477.7,524.0 L478.0,527.3 L478.4,530.6 L478.7,533.8 L479.0,536.9 L479.4,539.9 L479.7,542.7 L480.0,545.4 L480.4,547.9 L480.7,550.3 L481.0,552.3 L481.4,554.2 L481.7,555.7 L482.1,556.9 L482.4,557.8 L482.7,558.4 L483.1,558.6 L483.4,558.4 L483.7,557.9 L484.1,557.1 L484.4,555.9 L484.7,554.5 L485.1,552.7 L485.4,550.7 L485.8,548.5 L486.1,546.0 L486.4,543.4 L486.8,540.6 L487.1,537.7 L487.4,534.7 L487.8,531.6 L488.1,528.4 L488.4,525.2 L488.8,522.0 L489.1,518.8 L489.4,515.5 L489.8,512.4 L490.1,509.2 L490.5,506.1 L490.8,503.1 L491.1,500.1 L491.5,497.2 L491.8,494.4 L492.1,491.7 L492.5,489.2 L492.8,486.7 L493.1,484.3 L493.5,482.1 L493.8,480.0 L494.2,478.1 L494.5,476.3 L494.8,474.6 L495.2,473.1 L495.5,471.8 L495.8,470.6 L496.2,469.6 L496.5,468.7 L496.8,468.0 L497.2,467.5 L497.5,467.1 L497.8,466.9 L498.2,466.8 L498.5,466.9 L498.9,467.2 L499.2,467.7 L499.5,468.3 L499.9,469.1 L500.2,470.0 L500.5,471.1 L500.9,472.3 L501.2,473.7 L501.5,475.3 L501.9,477.0 L502.2,478.8 L502.6,480.8 L502.9,482.9 L503.2,485.1 L503.6,487.4 L503.9,489.9 L504.2,492.5 L504.6,495.1 L504.9,497.9 L505.2,500.7 L505.6,503.6 L505.9,506.6 L506.2,509.6 L506.6,512.7 L506.9,515.7 L507.3,518.8 L507.6,521.9 L507.9,525.0 L508.3,528.0 L508.6,531.0 L508.9,533.9 L509.3,536.7 L509.6,539.4 L509.9,542.0 L510.3,544.4 L510.6,546.6 L511.0,548.6 L511.3,550.4 L511.6,551.9 L512.0,553.2 L512.3,554.2 L512.6,554.9 L513.0,555.3 L513.3,555.3 L513.6,555.1 L514.0,554.5 L514.3,553.6 L514.6,552.5 L515.0,551.0 L515.3,549.4 L515.7,547.4 L516.0,545.3 L516.3,543.0 L516.7,540.6 L517.0,538.0 L517.3,535.2 L517.7,532.4 L518.0,529.5 L518.3,526.6 L518.7,523.6 L519.0,520.6 L519.4,517.6 L519.7,514.6 L520.0,511.6 L520.4,508.7 L520.7,505.8 L521.0,503.0 L521.4,500.2 L521.7,497.6 L522.0,495.0 L522.4,492.5 L522.7,490.1 L523.0,487.8 L523.4,485.7 L523.7,483.6 L524.1,481.7 L524.4,479.9 L524.7,478.3 L525.1,476.8 L525.4,475.4 L525.7,474.2 L526.1,473.1 L526.4,472.2 L526.7,471.4 L527.1,470.8 L527.4,470.4 L527.8,470.1 L528.1,469.9 L528.4,470.0 L528.8,470.1 L529.1,470.5 L529.4,471.0 L529.8,471.6 L530.1,472.4 L530.4,473.3 L530.8,474.4 L531.1,475.7 L531.4,477.0 L531.8,478.6 L532.1,480.2 L532.5,482.0 L532.8,483.9 L533.1,485.9 L533.5,488.1 L533.8,490.3 L534.1,492.7 L534.5,495.1 L534.8,497.7 L535.1,500.3 L535.5,503.0 L535.8,505.7 L536.2,508.5 L536.5,511.4 L536.8,514.2 L537.2,517.1 L537.5,520.0 L537.8,522.8 L538.2,525.7 L538.5,528.5 L538.8,531.2 L539.2,533.8 L539.5,536.4 L539.8,538.8 L540.2,541.1 L540.5,543.2 L540.9,545.2 L541.2,546.9 L541.5,548.5 L541.9,549.8 L542.2,550.8 L542.5,551.6 L542.9,552.1 L543.2,552.3 L543.5,552.2 L543.9,551.9 L544.2,551.3 L544.6,550.4 L544.9,549.2 L545.2,547.9 L545.6,546.2 L545.9,544.4 L546.2,542.4 L546.6,540.3 L546.9,537.9 L547.2,535.5 L547.6,533.0 L547.9,530.3 L548.2,527.6 L548.6,524.9 L548.9,522.1 L549.3,519.3 L549.6,516.5 L549.9,513.8 L550.3,511.0 L550.6,508.3 L550.9,505.6 L551.3,503.0 L551.6,500.4 L551.9,497.9 L552.3,495.5 L552.6,493.2 L553.0,491.0 L553.3,488.9 L553.6,486.9 L554.0,485.0 L554.3,483.3 L554.6,481.6 L555.0,480.1 L555.3,478.8 L555.6,477.5 L556.0,476.4 L556.3,475.5 L556.6,474.7 L557.0,474.0 L557.3,473.5 L557.7,473.1 L558.0,472.9 L558.3,472.8 L558.7,472.9 L559.0,473.1 L559.3,473.5 L559.7,474.0 L560.0,474.7 L560.3,475.5 L560.7,476.4 L561.0,477.5 L561.4,478.8 L561.7,480.1 L562.0,481.6 L562.4,483.2 L562.7,484.9 L563.0,486.8 L563.4,488.7 L563.7,490.8 L564.0,493.0 L564.4,495.2 L564.7,497.5 L565.0,500.0 L565.4,502.4 L565.7,505.0 L566.1,507.6 L566.4,510.2 L566.7,512.9 L567.1,515.5 L567.4,518.2 L567.7,520.9 L568.1,523.5 L568.4,526.1 L568.7,528.7 L569.1,531.2 L569.4,533.6 L569.8,535.9 L570.1,538.1 L570.4,540.1 L570.8,542.0 L571.1,543.7 L571.4,545.2 L571.8,546.5 L572.1,547.6 L572.4,548.5 L572.8,549.1 L573.1,549.4 L573.4,549.5 L573.8,549.4 L574.1,548.9 L574.5,548.3 L574.8,547.4 L575.1,546.2 L575.5,544.9 L575.8,543.4 L576.1,541.6 L576.5,539.7 L576.8,537.7 L577.1,535.5 L577.5,533.2 L577.8,530.9 L578.2,528.4 L578.5,525.9 L578.8,523.3 L579.2,520.8 L579.5,518.2 L579.8,515.6 L580.2,513.0 L580.5,510.4 L580.8,507.9 L581.2,505.4 L581.5,503.0 L581.8,500.6 L582.2,498.3 L582.5,496.1 L582.9,493.9 L583.2,491.9 L583.5,489.9 L583.9,488.1 L584.2,486.4 L584.5,484.8 L584.9,483.3 L585.2,481.9 L585.5,480.7 L585.9,479.6 L586.2,478.6 L586.6,477.7 L586.9,477.0 L587.2,476.4 L587.6,476.0 L587.9,475.7 L588.2,475.6 L588.6,475.5 L588.9,475.7 L589.2,475.9 L589.6,476.4 L589.9,476.9 L590.2,477.6 L590.6,478.4 L590.9,479.3 L591.3,480.4 L591.6,481.6 L591.9,483.0 L592.3,484.4 L592.6,486.0 L592.9,487.6 L593.3,489.4 L593.6,491.3 L593.9,493.3 L594.3,495.3 L594.6,497.5 L595.0,499.7 L595.3,502.0 L595.6,504.4 L596.0,506.7 L596.3,509.2 L596.6,511.7 L597.0,514.1 L597.3,516.6 L597.6,519.1 L598.0,521.6 L598.3,524.0 L598.6,526.4 L599.0,528.8 L599.3,531.0 L599.7,533.2 L600.0,535.3 L600.3,537.2 L600.7,539.1 L601.0,540.7 L601.3,542.2 L601.7,543.5 L602.0,544.6 L602.3,545.5 L602.7,546.2 L603.0,546.7 L603.4,546.9 L603.7,546.9 L604.0,546.6 L604.4,546.2 L604.7,545.5 L605.0,544.6 L605.4,543.5 L605.7,542.2 L606.0,540.7 L606.4,539.0 L606.7,537.3 L607.0,535.3 L607.4,533.3 L607.7,531.2 L608.1,528.9 L608.4,526.6 L608.7,524.3 L609.1,521.9 L609.4,519.5 L609.7,517.1 L610.1,514.7 L610.4,512.3 L610.7,509.9 L611.1,507.5 L611.4,505.2 L611.8,503.0 L612.1,500.8 L612.4,498.6 L612.8,496.6 L613.1,494.6 L613.4,492.7 L613.8,490.9 L614.1,489.3 L614.4,487.7 L614.8,486.2 L615.1,484.8 L615.4,483.6 L615.8,482.5 L616.1,481.5 L616.5,480.6 L616.8,479.8 L617.1,479.2 L617.5,478.7 L617.8,478.4 L618.1,478.1 L618.5,478.1 L618.8,478.1 L619.1,478.3 L619.5,478.6 L619.8,479.0 L620.2,479.6 L620.5,480.3 L620.8,481.1 L621.2,482.0 L621.5,483.1 L621.8,484.3 L622.2,485.6 L622.5,487.0 L622.8,488.5 L623.2,490.1 L623.5,491.8 L623.8,493.6 L624.2,495.5 L624.5,497.5 L624.9,499.5 L625.2,501.7 L625.5,503.8 L625.9,506.0 L626.2,508.3 L626.5,510.6 L626.9,512.9 L627.2,515.2 L627.5,517.5 L627.9,519.8 L628.2,522.1 L628.6,524.4 L628.9,526.6 L629.2,528.7 L629.6,530.8 L629.9,532.7 L630.2,534.6 L630.6,536.3 L630.9,537.9 L631.2,539.4 L631.6,540.7 L631.9,541.8 L632.2,542.8 L632.6,543.5 L632.9,544.0 L633.3,544.4 L633.6,544.5 L633.9,544.4 L634.3,544.1 L634.6,543.6 L634.9,542.9 L635.3,542.0 L635.6,540.9 L635.9,539.6 L636.3,538.2 L636.6,536.7 L637.0,535.0 L637.3,533.2 L637.6,531.2 L638.0,529.2 L638.3,527.2 L638.6,525.0 L639.0,522.8 L639.3,520.6 L639.6,518.4 L640.0,516.1 L640.3,513.9 L640.6,511.6 L641.0,509.4 L641.3,507.2 L641.7,505.1 L642.0,503.0 L642.3,501.0 L642.7,499.0 L643.0,497.1 L643.3,495.3 L643.7,493.5 L644.0,491.9 L644.3,490.3 L644.7,488.9 L645.0,487.5 L645.4,486.3 L645.7,485.2 L646.0,484.2 L646.4,483.3 L646.7,482.5 L647.0,481.8 L647.4,481.3 L647.7,480.9 L648.0,480.6 L648.4,480.4 L648.7,480.4 L649.0,480.5 L649.4,480.7 L649.7,481.0 L650.1,481.5 L650.4,482.1 L650.7,482.8 L651.1,483.6 L651.4,484.5 L651.7,485.6 L652.1,486.7 L652.4,488.0 L652.7,489.4 L653.1,490.8 L653.4,492.4 L653.8,494.0 L654.1,495.8 L654.4,497.6 L654.8,499.5 L655.1,501.4 L655.4,503.4 L655.8,505.4 L656.1,507.5 L656.4,509.7 L656.8,511.8 L657.1,514.0 L657.4,516.1 L657.8,518.3 L658.1,520.4 L658.5,522.5 L658.8,524.6 L659.1,526.6 L659.5,528.5 L659.8,530.4 L660.1,532.2 L660.5,533.8 L660.8,535.4 L661.1,536.8 L661.5,538.1 L661.8,539.2 L662.2,540.2 L662.5,540.9 L662.8,541.5 L663.2,542.0 L663.5,542.2 L663.8,542.2 L664.2,542.1 L664.5,541.7 L664.8,541.2 L665.2,540.5 L665.5,539.6 L665.8,538.5 L666.2,537.3 L666.5,535.9 L666.9,534.5 L667.2,532.9 L667.5,531.2 L667.9,529.4 L668.2,527.5 L668.5,525.5 L668.9,523.5 L669.2,521.5 L669.5,519.4 L669.9,517.3 L670.2,515.2 L670.6,513.1 L670.9,511.1 L671.2,509.0 L671.6,507.0 L671.9,505.0 L672.2,503.1 L672.6,501.2 L672.9,499.4 L673.2,497.6 L673.6,495.9 L673.9,494.3 L674.2,492.8 L674.6,491.4 L674.9,490.1 L675.3,488.8 L675.6,487.7 L675.9,486.7 L676.3,485.8 L676.6,485.0 L676.9,484.3 L677.3,483.7 L677.6,483.3 L677.9,482.9 L678.3,482.7 L678.6,482.6 L679.0,482.6 L679.3,482.7 L679.6,483.0 L680.0,483.3 L680.3,483.8 L680.6,484.4 L681.0,485.1 L681.3,485.9 L681.6,486.9 L682.0,487.9 L682.3,489.0 L682.6,490.2 L683.0,491.6 L683.3,493.0 L683.7,494.5 L684.0,496.1 L684.3,497.7 L684.7,499.4 L685.0,501.2 L685.3,503.1 L685.7,504.9 L686.0,506.9 L686.3,508.8 L686.7,510.8 L687.0,512.8 L687.4,514.8 L687.7,516.9 L688.0,518.8 L688.4,520.8 L688.7,522.8 L689.0,524.7 L689.4,526.5 L689.7,528.3 L690.0,529.9 L690.4,531.5 L690.7,533.0 L691.0,534.4 L691.4,535.7 L691.7,536.8 L692.1,537.7 L692.4,538.5 L692.7,539.2 L693.1,539.7 L693.4,540.0 L693.7,540.1 L694.1,540.1 L694.4,539.9 L694.7,539.5 L695.1,538.9 L695.4,538.2 L695.8,537.3 L696.1,536.3 L696.4,535.1 L696.8,533.8 L697.1,532.4 L697.4,530.9 L697.8,529.3 L698.1,527.6 L698.4,525.9 L698.8,524.0 L699.1,522.2 L699.4,520.3 L699.8,518.3 L700.1,516.4 L700.5,514.4 L700.8,512.5 L701.1,510.6 L701.5,508.6 L701.8,506.8 L702.1,504.9 L702.5,503.1 L702.8,501.4 L703.1,499.7 L703.5,498.1 L703.8,496.6 L704.2,495.1 L704.5,493.7 L704.8,492.4 L705.2,491.2 L705.5,490.1 L705.8,489.0 L706.2,488.1 L706.5,487.3 L706.8,486.6 L707.2,486.0 L707.5,485.5 L707.8,485.1 L708.2,484.8 L708.5,484.7 L708.9,484.6 L709.2,484.7 L709.5,484.8 L709.9,485.1 L710.2,485.5 L710.5,486.0 L710.9,486.6 L711.2,487.3 L711.5,488.1 L711.9,489.0 L712.2,490.0 L712.6,491.1 L712.9,492.3 L713.2,493.6 L713.6,494.9 L713.9,496.4 L714.2,497.9 L714.6,499.5 L714.9,501.1 L715.2,502.8 L715.6,504.5 L715.9,506.3 L716.2,508.1 L716.6,510.0 L716.9,511.8 L717.3,513.7 L717.6,515.6 L717.9,517.4 L718.3,519.3 L718.6,521.1" stroke="#ee0a0a" stroke-width="1.5"/>
<path d="M46.6,378.1 L46.9,378.3 L47.3,378.6 L47.6,379.1 L47.9,379.8 L48.3,380.6 L48.6,381.6 L49.0,382.8 L49.3,384.1 L49.6,385.5 L50.0,387.2 L50.3,388.9 L50.6,390.8 L51.0,392.9 L51.3,395.1 L51.6,397.5 L52.0,400.0 L52.3,402.6 L52.6,405.3 L53.0,408.2 L53.3,411.2 L53.7,414.4 L54.0,417.6 L54.3,421.0 L54.7,424.5 L55.0,428.0 L55.3,431.7 L55.7,435.5 L56.0,439.4 L56.3,443.3 L56.7,447.4 L57.0,451.5 L57.4,455.7 L57.7,459.9 L58.0,464.2 L58.4,468.6 L58.7,473.0 L59.0,477.5 L59.4,482.0 L59.7,486.5 L60.0,491.1 L60.4,495.7 L60.7,500.3 L61.0,504.9 L61.4,509.5 L61.7,514.1 L62.1,518.7 L62.4,523.3 L62.7,527.9 L63.1,532.5 L63.4,537.0 L63.7,541.6 L64.1,546.0 L64.4,550.5 L64.7,554.8 L65.1,559.2 L65.4,563.4 L65.8,567.6 L66.1,571.7 L66.4,575.8 L66.8,579.8 L67.1,583.7 L67.4,587.5 L67.8,591.2 L68.1,594.8 L68.4,598.3 L68.8,601.7 L69.1,604.9 L69.4,608.1 L69.8,611.2 L70.1,614.1 L70.5,616.9 L70.8,619.5 L71.1,622.1 L71.5,624.5 L71.8,626.7 L72.1,628.8 L72.5,630.8 L72.8,632.6 L73.1,634.2 L73.5,635.7 L73.8,637.0 L74.2,638.1 L74.5,639.0 L74.8,639.8 L75.2,640.4 L75.5,640.8 L75.8,641.1 L76.2,641.2 L76.5,641.2 L76.8,641.1 L77.2,640.9 L77.5,640.6 L77.8,640.1 L78.2,639.6 L78.5,638.9 L78.9,638.1 L79.2,637.1 L79.5,636.0 L79.9,634.7 L80.2,633.3 L80.5,631.7 L80.9,630.0 L81.2,628.1 L81.5,626.1 L81.9,623.9 L82.2,621.6 L82.6,619.1 L82.9,616.5 L83.2,613.8 L83.6,611.0 L83.9,608.1 L84.2,605.0 L84.6,601.8 L84.9,598.5 L85.2,595.2 L85.6,591.7 L85.9,588.1 L86.2,584.5 L86.6,580.7 L86.9,576.9 L87.3,573.0 L87.6,569.1 L87.9,565.0 L88.3,561.0 L88.6,556.8 L88.9,552.6 L89.3,548.4 L89.6,544.2 L89.9,539.9 L90.3,535.6 L90.6,531.2 L91.0,526.9 L91.3,522.5 L91.6,518.2 L92.0,513.8 L92.3,509.4 L92.6,505.1 L93.0,500.8 L93.3,496.5 L93.6,492.2 L94.0,487.9 L94.3,483.7 L94.6,479.6 L95.0,475.5 L95.3,471.4 L95.7,467.4 L96.0,463.5 L96.3,459.6 L96.7,455.8 L97.0,452.1 L97.3,448.5 L97.7,444.9 L98.0,441.5 L98.3,438.1 L98.7,434.9 L99.0,431.7 L99.4,428.7 L99.7,425.7 L100.0,422.9 L100.4,420.2 L100.7,417.6 L101.0,415.2 L101.4,412.8 L101.7,410.6 L102.0,408.6 L102.4,406.6 L102.7,404.9 L103.0,403.2 L103.4,401.7 L103.7,400.3 L104.1,399.1 L104.4,398.0 L104.7,397.1 L105.1,396.3 L105.4,395.7 L105.7,395.2 L106.1,394.9 L106.4,394.7 L106.7,394.7 L107.1,394.8 L107.4,395.1 L107.8,395.5 L108.1,396.1 L108.4,396.8 L108.8,397.7 L109.1,398.7 L109.4,399.9 L109.8,401.2 L110.1,402.7 L110.4,404.2 L110.8,406.0 L111.1,407.9 L111.4,409.9 L111.8,412.0 L112.1,414.3 L112.5,416.7 L112.8,419.2 L113.1,421.8 L113.5,424.6 L113.8,427.4 L114.1,430.4 L114.5,433.5 L114.8,436.7 L115.1,440.0 L115.5,443.3 L115.8,446.8 L116.2,450.3 L116.5,454.0 L116.8,457.7 L117.2,461.5 L117.5,465.3 L117.8,469.2 L118.2,473.2 L118.5,477.2 L118.8,481.3 L119.2,485.4 L119.5,489.6 L119.8,493.8 L120.2,498.0 L120.5,502.2 L120.9,506.5 L121.2,510.8 L121.5,515.0 L121.9,519.3 L122.2,523.6 L122.5,527.9 L122.9,532.1 L123.2,536.4 L123.5,540.6 L123.9,544.8 L124.2,548.9 L124.6,553.0 L124.9,557.1 L125.2,561.1 L125.6,565.1 L125.9,569.0 L126.2,572.8 L126.6,576.6 L126.9,580.3 L127.2,583.9 L127.6,587.5 L127.9,590.9 L128.2,594.3 L128.6,597.5 L128.9,600.7 L129.3,603.8 L129.6,606.7 L129.9,609.5 L130.3,612.2 L130.6,614.8 L130.9,617.2 L131.3,619.5 L131.6,621.7 L131.9,623.7 L132.3,625.5 L132.6,627.2 L133.0,628.7 L133.3,630.0 L133.6,631.1 L134.0,632.0 L134.3,632.7 L134.6,633.2 L135.0,633.5 L135.3,633.7 L135.6,633.7 L136.0,633.6 L136.3,633.4 L136.6,633.1 L137.0,632.7 L137.3,632.2 L137.7,631.7 L138.0,631.1 L138.3,630.4 L138.7,629.7 L139.0,628.9 L139.3,628.0 L139.7,627.0 L140.0,625.9 L140.3,624.7 L140.7,623.4 L141.0,621.9 L141.4,620.4 L141.7,618.7 L142.0,616.9 L142.4,614.9 L142.7,612.9 L143.0,610.7 L143.4,608.4 L143.7,606.0 L144.0,603.4 L144.4,600.8 L144.7,598.0 L145.0,595.2 L145.4,592.2 L145.7,589.2 L146.1,586.0 L146.4,582.8 L146.7,579.5 L147.1,576.1 L147.4,572.6 L147.7,569.1 L148.1,565.4 L148.4,561.8 L148.7,558.1 L149.1,554.3 L149.4,550.5 L149.8,546.7 L150.1,542.8 L150.4,538.9 L150.8,535.0 L151.1,531.0 L151.4,527.1 L151.8,523.1 L152.1,519.1 L152.4,515.2 L152.8,511.2 L153.1,507.3 L153.4,503.3 L153.8,499.4 L154.1,495.6 L154.5,491.7 L154.8,487.9 L155.1,484.1 L155.5,480.4 L155.8,476.8 L156.1,473.2 L156.5,469.6 L156.8,466.1 L157.1,462.7 L157.5,459.4 L157.8,456.1 L158.2,453.0 L158.5,449.9 L158.8,446.9 L159.2,444.0 L159.5,441.2 L159.8,438.5 L160.2,435.9 L160.5,433.4 L160.8,431.0 L161.2,428.7 L161.5,426.6 L161.8,424.6 L162.2,422.6 L162.5,420.9 L162.9,419.2 L163.2,417.7 L163.5,416.3 L163.9,415.0 L164.2,413.8 L164.5,412.8 L164.9,412.0 L165.2,411.2 L165.5,410.7 L165.9,410.2 L166.2,409.9 L166.6,409.7 L166.9,409.7 L167.2,409.8 L167.6,410.0 L167.9,410.4 L168.2,410.9 L168.6,411.6 L168.9,412.4 L169.2,413.3 L169.6,414.4 L169.9,415.6 L170.2,416.9 L170.6,418.4 L170.9,420.0 L171.3,421.7 L171.6,423.5 L171.9,425.5 L172.3,427.6 L172.6,429.8 L172.9,432.1 L173.3,434.5 L173.6,437.1 L173.9,439.7 L174.3,442.4 L174.6,445.3 L175.0,448.2 L175.3,451.3 L175.6,454.4 L176.0,457.6 L176.3,460.9 L176.6,464.2 L177.0,467.7 L177.3,471.2 L177.6,474.7 L178.0,478.4 L178.3,482.0 L178.6,485.8 L179.0,489.6 L179.3,493.4 L179.7,497.2 L180.0,501.1 L180.3,505.1 L180.7,509.0 L181.0,513.0 L181.3,516.9 L181.7,520.9 L182.0,524.9 L182.3,528.9 L182.7,532.9 L183.0,536.8 L183.4,540.8 L183.7,544.7 L184.0,548.6 L184.4,552.5 L184.7,556.4 L185.0,560.2 L185.4,563.9 L185.7,567.7 L186.0,571.3 L186.4,574.9 L186.7,578.5 L187.0,581.9 L187.4,585.3 L187.7,588.6 L188.1,591.9 L188.4,595.0 L188.7,598.1 L189.1,601.0 L189.4,603.8 L189.7,606.6 L190.1,609.2 L190.4,611.7 L190.7,614.0 L191.1,616.2 L191.4,618.3 L191.8,620.1 L192.1,621.9 L192.4,623.4 L192.8,624.7 L193.1,625.8 L193.4,626.8 L193.8,627.5 L194.1,628.0 L194.4,628.3 L194.8,628.4 L195.1,628.4 L195.4,628.2 L195.8,627.8 L196.1,627.4 L196.5,626.9 L196.8,626.3 L197.1,625.7 L197.5,625.0 L197.8,624.2 L198.1,623.4 L198.5,622.5 L198.8,621.6 L199.1,620.7 L199.5,619.7 L199.8,618.6 L200.2,617.5 L200.5,616.3 L200.8,615.0 L201.2,613.6 L201.5,612.2 L201.8,610.6 L202.2,609.0 L202.5,607.3 L202.8,605.5 L203.2,603.6 L203.5,601.6 L203.8,599.5 L204.2,597.3 L204.5,595.0 L204.9,592.6 L205.2,590.1 L205.5,587.5 L205.9,584.8 L206.2,582.1 L206.5,579.2 L206.9,576.3 L207.2,573.3 L207.5,570.3 L207.9,567.2 L208.2,564.0 L208.6,560.7 L208.9,557.4 L209.2,554.1 L209.6,550.7 L209.9,547.3 L210.2,543.8 L210.6,540.3 L210.9,536.8 L211.2,533.3 L211.6,529.7 L211.9,526.2 L212.2,522.6 L212.6,519.0 L212.9,515.5 L213.3,511.9 L213.6,508.4 L213.9,504.8 L214.3,501.3 L214.6,497.8 L214.9,494.4 L215.3,491.0 L215.6,487.6 L215.9,484.3 L216.3,481.0 L216.6,477.8 L217.0,474.7 L217.3,471.6 L217.6,468.5 L218.0,465.6 L218.3,462.7 L218.6,459.9 L219.0,457.1 L219.3,454.5 L219.6,451.9 L220.0,449.5 L220.3,447.1 L220.6,444.8 L221.0,442.7 L221.3,440.6 L221.7,438.6 L222.0,436.8 L222.3,435.0 L222.7,433.4 L223.0,431.9 L223.3,430.5 L223.7,429.2 L224.0,428.1 L224.3,427.0 L224.7,426.1 L225.0,425.3 L225.4,424.7 L225.7,424.1 L226.0,423.7 L226.4,423.4 L226.7,423.3 L227.0,423.3 L227.4,423.4 L227.7,423.6 L228.0,424.0 L228.4,424.5 L228.7,425.1 L229.0,425.8 L229.4,426.7 L229.7,427.7 L230.1,428.8 L230.4,430.0 L230.7,431.4 L231.1,432.9 L231.4,434.5 L231.7,436.2 L232.1,438.0 L232.4,440.0 L232.7,442.0 L233.1,444.2 L233.4,446.4 L233.8,448.8 L234.1,451.2 L234.4,453.8 L234.8,456.4 L235.1,459.2 L235.4,462.0 L235.8,464.9 L236.1,467.9 L236.4,470.9 L236.8,474.1 L237.1,477.3 L237.4,480.5 L237.8,483.9 L238.1,487.3 L238.5,490.7 L238.8,494.2 L239.1,497.7 L239.5,501.3 L239.8,504.9 L240.1,508.5 L240.5,512.2 L240.8,515.9 L241.1,519.6 L241.5,523.3 L241.8,527.1 L242.2,530.8 L242.5,534.5 L242.8,538.3 L243.2,542.0 L243.5,545.7 L243.8,549.4 L244.2,553.1 L244.5,556.7 L244.8,560.4 L245.2,563.9 L245.5,567.5 L245.8,571.0 L246.2,574.4 L246.5,577.8 L246.9,581.1 L247.2,584.4 L247.5,587.6 L247.9,590.7 L248.2,593.8 L248.5,596.7 L248.9,599.6 L249.2,602.3 L249.5,605.0 L249.9,607.5 L250.2,609.9 L250.6,612.2 L250.9,614.3 L251.2,616.2 L251.6,618.0 L251.9,619.6 L252.2,621.0 L252.6,622.2 L252.9,623.2 L253.2,624.0 L253.6,624.5 L253.9,624.8 L254.2,624.9 L254.6,624.8 L254.9,624.6 L255.3,624.2 L255.6,623.7 L255.9,623.1 L256.3,622.4 L256.6,621.6 L256.9,620.7 L257.3,619.8 L257.6,618.9 L257.9,617.9 L258.3,616.9 L258.6,615.9 L259.0,614.8 L259.3,613.7 L259.6,612.5 L260.0,611.3 L260.3,610.1 L260.6,608.8 L261.0,607.5 L261.3,606.2 L261.6,604.7 L262.0,603.2 L262.3,601.7 L262.6,600.1 L263.0,598.4 L263.3,596.6 L263.7,594.8 L264.0,592.9 L264.3,590.9 L264.7,588.9 L265.0,586.7 L265.3,584.5 L265.7,582.2 L266.0,579.9 L266.3,577.4 L266.7,574.9 L267.0,572.4 L267.4,569.7 L267.7,567.0 L268.0,564.3 L268.4,561.5 L268.7,558.6 L269.0,555.7 L269.4,552.7 L269.7,549.7 L270.0,546.7 L270.4,543.6 L270.7,540.5 L271.0,537.4 L271.4,534.2 L271.7,531.1 L272.1,527.9 L272.4,524.7 L272.7,521.5 L273.1,518.3 L273.4,515.1 L273.7,512.0 L274.1,508.8 L274.4,505.7 L274.7,502.5 L275.1,499.5 L275.4,496.4 L275.8,493.4 L276.1,490.4 L276.4,487.4 L276.8,484.5 L277.1,481.7 L277.4,478.9 L277.8,476.2 L278.1,473.5 L278.4,470.9 L278.8,468.4 L279.1,465.9 L279.4,463.5 L279.8,461.2 L280.1,459.0 L280.5,456.9 L280.8,454.8 L281.1,452.9 L281.5,451.0 L281.8,449.2 L282.1,447.6 L282.5,446.0 L282.8,444.5 L283.1,443.2 L283.5,441.9 L283.8,440.8 L284.2,439.8 L284.5,438.8 L284.8,438.0 L285.2,437.3 L285.5,436.8 L285.8,436.3 L286.2,436.0 L286.5,435.7 L286.8,435.6 L287.2,435.6 L287.5,435.8 L287.8,436.0 L288.2,436.4 L288.5,436.8 L288.9,437.4 L289.2,438.2 L289.5,439.0 L289.9,439.9 L290.2,441.0 L290.5,442.2 L290.9,443.5 L291.2,444.9 L291.5,446.4 L291.9,448.0 L292.2,449.7 L292.6,451.5 L292.9,453.4 L293.2,455.5 L293.6,457.6 L293.9,459.8 L294.2,462.1 L294.6,464.5 L294.9,467.0 L295.2,469.6 L295.6,472.2 L295.9,474.9 L296.2,477.7 L296.6,480.6 L296.9,483.5 L297.3,486.5 L297.6,489.6 L297.9,492.7 L298.3,495.9 L298.6,499.1 L298.9,502.4 L299.3,505.7 L299.6,509.1 L299.9,512.5 L300.3,515.9 L300.6,519.4 L301.0,522.8 L301.3,526.3 L301.6,529.8 L302.0,533.4 L302.3,536.9 L302.6,540.4 L303.0,543.9 L303.3,547.5 L303.6,551.0 L304.0,554.5 L304.3,557.9 L304.6,561.4 L305.0,564.8 L305.3,568.2 L305.7,571.6 L306.0,574.9 L306.3,578.1 L306.7,581.4 L307.0,584.5 L307.3,587.6 L307.7,590.6 L308.0,593.6 L308.3,596.4 L308.7,599.2 L309.0,601.9 L309.4,604.5 L309.7,606.9 L310.0,609.3 L310.4,611.5 L310.7,613.5 L311.0,615.4 L311.4,617.1 L311.7,618.6 L312.0,619.9 L312.4,620.9 L312.7,621.8 L313.0,622.4 L313.4,622.8 L313.7,622.9 L314.1,622.8 L314.4,622.6 L314.7,622.1 L315.1,621.6 L315.4,620.9 L315.7,620.0 L316.1,619.1 L316.4,618.2 L316.7,617.1 L317.1,616.0 L317.4,614.9 L317.8,613.8 L318.1,612.6 L318.4,611.4 L318.8,610.2 L319.1,609.0 L319.4,607.7 L319.8,606.4 L320.1,605.1 L320.4,603.8 L320.8,602.5 L321.1,601.1 L321.4,599.7 L321.8,598.2 L322.1,596.7 L322.5,595.2 L322.8,593.6 L323.1,592.0 L323.5,590.3 L323.8,588.6 L324.1,586.8 L324.5,585.0 L324.8,583.1 L325.1,581.1 L325.5,579.1 L325.8,577.0 L326.2,574.9 L326.5,572.7 L326.8,570.5 L327.2,568.2 L327.5,565.8 L327.8,563.4 L328.2,561.0 L328.5,558.5 L328.8,555.9 L329.2,553.3 L329.5,550.7 L329.8,548.1 L330.2,545.4 L330.5,542.6 L330.9,539.9 L331.2,537.1 L331.5,534.3 L331.9,531.5 L332.2,528.7 L332.5,525.9 L332.9,523.0 L333.2,520.2 L333.5,517.4 L333.9,514.5 L334.2,511.7 L334.6,508.9 L334.9,506.2 L335.2,503.4 L335.6,500.7 L335.9,498.0 L336.2,495.3 L336.6,492.7 L336.9,490.1 L337.2,487.6 L337.6,485.1 L337.9,482.6 L338.2,480.3 L338.6,477.9 L338.9,475.7 L339.3,473.5 L339.6,471.3 L339.9,469.3 L340.3,467.3 L340.6,465.4 L340.9,463.6 L341.3,461.8 L341.6,460.2 L341.9,458.6 L342.3,457.1 L342.6,455.8 L343.0,454.5 L343.3,453.3 L343.6,452.2 L344.0,451.2 L344.3,450.3 L344.6,449.5 L345.0,448.8 L345.3,448.2 L345.6,447.7 L346.0,447.3 L346.3,447.1 L346.6,446.9 L347.0,446.8 L347.3,446.9 L347.7,447.1 L348.0,447.3 L348.3,447.7 L348.7,448.2 L349.0,448.8 L349.3,449.5 L349.7,450.3 L350.0,451.2 L350.3,452.3 L350.7,453.4 L351.0,454.6 L351.4,456.0 L351.7,457.4 L352.0,459.0 L352.4,460.6 L352.7,462.3 L353.0,464.1 L353.4,466.1 L353.7,468.1 L354.0,470.2 L354.4,472.4 L354.7,474.6 L355.0,477.0 L355.4,479.4 L355.7,481.9 L356.1,484.5 L356.4,487.1 L356.7,489.8 L357.1,492.6 L357.4,495.5 L357.7,498.4 L358.1,501.3 L358.4,504.3 L358.7,507.4 L359.1,510.5 L359.4,513.6 L359.8,516.8 L360.1,520.0 L360.4,523.2 L360.8,526.5 L361.1,529.8 L361.4,533.1 L361.8,536.4 L362.1,539.8 L362.4,543.1 L362.8,546.4 L363.1,549.8 L363.4,553.1 L363.8,556.5 L364.1,559.8 L364.5,563.1 L364.8,566.4 L365.1,569.7 L365.5,572.9 L365.8,576.1 L366.1,579.2 L366.5,582.3 L366.8,585.4 L367.1,588.4 L367.5,591.3 L367.8,594.2 L368.2,597.0 L368.5,599.7 L368.8,602.3 L369.2,604.9 L369.5,607.3 L369.8,609.5 L370.2,611.7 L370.5,613.7 L370.8,615.5 L371.2,617.1 L371.5,618.5 L371.8,619.7 L372.2,620.7 L372.5,621.4 L372.9,621.9 L373.2,622.1 L373.5,622.1 L373.9,621.8 L374.2,621.4 L374.5,620.8 L374.9,620.0 L375.2,619.1 L375.5,618.1 L375.9,617.0 L376.2,615.8 L376.6,614.6 L376.9,613.4 L377.2,612.1 L377.6,610.8 L377.9,609.5 L378.2,608.1 L378.6,606.8 L378.9,605.4 L379.2,604.0 L379.6,602.7 L379.9,601.3 L380.2,599.9 L380.6,598.4 L380.9,597.0 L381.3,595.5 L381.6,594.1 L381.9,592.6 L382.3,591.1 L382.6,589.5 L382.9,588.0 L383.3,586.4 L383.6,584.7 L383.9,583.0 L384.3,581.3 L384.6,579.6 L385.0,577.8 L385.3,576.0 L385.6,574.1 L386.0,572.2 L386.3,570.3 L386.6,568.3 L387.0,566.2 L387.3,564.1 L387.6,562.0 L388.0,559.9 L388.3,557.7 L388.6,555.4 L389.0,553.2 L389.3,550.8 L389.7,548.5 L390.0,546.1 L390.3,543.7 L390.7,541.3 L391.0,538.9 L391.3,536.4 L391.7,533.9 L392.0,531.4 L392.3,528.9 L392.7,526.4 L393.0,523.9 L393.4,521.4 L393.7,518.9 L394.0,516.4 L394.4,513.9 L394.7,511.4 L395.0,509.0 L395.4,506.5 L395.7,504.1 L396.0,501.7 L396.4,499.4 L396.7,497.0 L397.0,494.7 L397.4,492.5 L397.7,490.3 L398.1,488.1 L398.4,486.0 L398.7,484.0 L399.1,482.0 L399.4,480.0 L399.7,478.1 L400.1,476.3 L400.4,474.6 L400.7,472.9 L401.1,471.3 L401.4,469.8 L401.8,468.3 L402.1,466.9 L402.4,465.6 L402.8,464.4 L403.1,463.3 L403.4,462.3 L403.8,461.3 L404.1,460.5 L404.4,459.7 L404.8,459.1 L405.1,458.5 L405.4,458.0 L405.8,457.6 L406.1,457.3 L406.5,457.2 L406.8,457.1 L407.1,457.1 L407.5,457.2 L407.8,457.4 L408.1,457.7 L408.5,458.1 L408.8,458.7 L409.1,459.3 L409.5,460.0 L409.8,460.8 L410.2,461.7 L410.5,462.7 L410.8,463.8 L411.2,465.0 L411.5,466.3 L411.8,467.7 L412.2,469.2 L412.5,470.8 L412.8,472.4 L413.2,474.2 L413.5,476.0 L413.8,477.9 L414.2,480.0 L414.5,482.0 L414.9,484.2 L415.2,486.4 L415.5,488.8 L415.9,491.1 L416.2,493.6 L416.5,496.1 L416.9,498.7 L417.2,501.3 L417.5,504.0 L417.9,506.8 L418.2,509.6 L418.6,512.5 L418.9,515.4 L419.2,518.3 L419.6,521.3 L419.9,524.3 L420.2,527.4 L420.6,530.4 L420.9,533.6 L421.2,536.7 L421.6,539.8 L421.9,543.0 L422.2,546.2 L422.6,549.4 L422.9,552.6 L423.3,555.8 L423.6,559.0 L423.9,562.2 L424.3,565.3 L424.6,568.5 L424.9,571.6 L425.3,574.7 L425.6,577.8 L425.9,580.9 L426.3,583.9 L426.6,586.9 L427.0,589.8 L427.3,592.7 L427.6,595.5 L428.0,598.2 L428.3,600.9 L428.6,603.5 L429.0,605.9 L429.3,608.3 L429.6,610.6 L430.0,612.7 L430.3,614.6 L430.6,616.4 L431.0,617.9 L431.3,619.3 L431.7,620.4 L432.0,621.3 L432.3,621.9 L432.7,622.2 L433.0,622.3 L433.3,622.1 L433.7,621.7 L434.0,621.0 L434.3,620.2 L434.7,619.3 L435.0,618.2 L435.4,617.0 L435.7,615.8 L436.0,614.4 L436.4,613.1 L436.7,611.6 L437.0,610.2 L437.4,608.7 L437.7,607.3 L438.0,605.8 L438.4,604.3 L438.7,602.8 L439.0,601.3 L439.4,599.8 L439.7,598.3 L440.1,596.8 L440.4,595.3 L440.7,593.8 L441.1,592.3 L441.4,590.8 L441.7,589.3 L442.1,587.7 L442.4,586.2 L442.7,584.6 L443.1,583.1 L443.4,581.5 L443.8,579.9 L444.1,578.2 L444.4,576.6 L444.8,574.9 L445.1,573.2 L445.4,571.4 L445.8,569.7 L446.1,567.9 L446.4,566.1 L446.8,564.2 L447.1,562.3 L447.4,560.4 L447.8,558.5 L448.1,556.5 L448.5,554.5 L448.8,552.5 L449.1,550.5 L449.5,548.4 L449.8,546.3 L450.1,544.2 L450.5,542.0 L450.8,539.9 L451.1,537.7 L451.5,535.5 L451.8,533.3 L452.2,531.1 L452.5,528.9 L452.8,526.6 L453.2,524.4 L453.5,522.2 L453.8,520.0 L454.2,517.8 L454.5,515.6 L454.8,513.4 L455.2,511.2 L455.5,509.0 L455.8,506.9 L456.2,504.8 L456.5,502.7 L456.9,500.7 L457.2,498.7 L457.5,496.7 L457.9,494.7 L458.2,492.8 L458.5,491.0 L458.9,489.2 L459.2,487.4 L459.5,485.7 L459.9,484.1 L460.2,482.5 L460.6,481.0 L460.9,479.5 L461.2,478.1 L461.6,476.8 L461.9,475.6 L462.2,474.4 L462.6,473.3 L462.9,472.2 L463.2,471.3 L463.6,470.4 L463.9,469.6 L464.2,468.9 L464.6,468.3 L464.9,467.8 L465.3,467.3 L465.6,466.9 L465.9,466.7 L466.3,466.5 L466.6,466.4 L466.9,466.4 L467.3,466.5 L467.6,466.6 L467.9,466.9 L468.3,467.3 L468.6,467.7 L469.0,468.3 L469.3,468.9 L469.6,469.7 L470.0,470.5 L470.3,471.4 L470.6,472.4 L471.0,473.5 L471.3,474.7 L471.6,476.0 L472.0,477.3 L472.3,478.8 L472.6,480.3 L473.0,481.9 L473.3,483.6 L473.7,485.4 L474.0,487.2 L474.3,489.2 L474.7,491.2 L475.0,493.3 L475.3,495.4 L475.7,497.6 L476.0,499.9 L476.3,502.3 L476.7,504.7 L477.0,507.1 L477.4,509.7 L477.7,512.3 L478.0,514.9 L478.4,517.6 L478.7,520.3 L479.0,523.1 L479.4,525.9 L479.7,528.8 L480.0,531.6 L480.4,534.6 L480.7,537.5 L481.0,540.5 L481.4,543.5 L481.7,546.5 L482.1,549.6 L482.4,552.6 L482.7,555.7 L483.1,558.7 L483.4,561.8 L483.7,564.9 L484.1,567.9 L484.4,571.0 L484.7,574.0 L485.1,577.0 L485.4,580.0 L485.8,583.0 L486.1,585.9 L486.4,588.8 L486.8,591.7 L487.1,594.5 L487.4,597.3 L487.8,600.0 L488.1,602.6 L488.4,605.1 L488.8,607.6 L489.1,609.9 L489.4,612.1 L489.8,614.2 L490.1,616.1 L490.5,617.9 L490.8,619.4 L491.1,620.7 L491.5,621.7 L491.8,622.5 L492.1,623.0 L492.5,623.2 L492.8,623.1 L493.1,622.8 L493.5,622.2 L493.8,621.4 L494.2,620.4 L494.5,619.2 L494.8,618.0 L495.2,616.6 L495.5,615.2 L495.8,613.7 L496.2,612.2 L496.5,610.6 L496.8,609.0 L497.2,607.4 L497.5,605.8 L497.8,604.2 L498.2,602.6 L498.5,601.0 L498.9,599.4 L499.2,597.8 L499.5,596.2 L499.9,594.6 L500.2,593.0 L500.5,591.4 L500.9,589.8 L501.2,588.3 L501.5,586.7 L501.9,585.1 L502.2,583.6 L502.6,582.0 L502.9,580.4 L503.2,578.8 L503.6,577.3 L503.9,575.7 L504.2,574.0 L504.6,572.4 L504.9,570.8 L505.2,569.1 L505.6,567.5 L505.9,565.8 L506.2,564.1 L506.6,562.4 L506.9,560.7 L507.3,558.9 L507.6,557.1 L507.9,555.4 L508.3,553.5 L508.6,551.7 L508.9,549.9 L509.3,548.0 L509.6,546.1 L509.9,544.2 L510.3,542.3 L510.6,540.4 L511.0,538.5 L511.3,536.5 L511.6,534.6 L512.0,532.6 L512.3,530.6 L512.6,528.7 L513.0,526.7 L513.3,524.7 L513.6,522.7 L514.0,520.8 L514.3,518.8 L514.6,516.9 L515.0,515.0 L515.3,513.1 L515.7,511.2 L516.0,509.3 L516.3,507.4 L516.7,505.6 L517.0,503.8 L517.3,502.1 L517.7,500.3 L518.0,498.6 L518.3,497.0 L518.7,495.4 L519.0,493.8 L519.4,492.3 L519.7,490.8 L520.0,489.4 L520.4,488.0 L520.7,486.7 L521.0,485.5 L521.4,484.3 L521.7,483.1 L522.0,482.1 L522.4,481.1 L522.7,480.1 L523.0,479.3 L523.4,478.5 L523.7,477.8 L524.1,477.1 L524.4,476.6 L524.7,476.1 L525.1,475.7 L525.4,475.4 L525.7,475.1 L526.1,474.9 L526.4,474.8 L526.7,474.8 L527.1,474.9 L527.4,475.1 L527.8,475.3 L528.1,475.7 L528.4,476.1 L528.8,476.6 L529.1,477.2 L529.4,477.9 L529.8,478.6 L530.1,479.5 L530.4,480.4 L530.8,481.4 L531.1,482.5 L531.4,483.7 L531.8,485.0 L532.1,486.3 L532.5,487.7 L532.8,489.2 L533.1,490.8 L533.5,492.5 L533.8,494.2 L534.1,496.0 L534.5,497.9 L534.8,499.8 L535.1,501.8 L535.5,503.9 L535.8,506.0 L536.2,508.2 L536.5,510.5 L536.8,512.8 L537.2,515.2 L537.5,517.6 L537.8,520.1 L538.2,522.7 L538.5,525.3 L538.8,527.9 L539.2,530.5 L539.5,533.3 L539.8,536.0 L540.2,538.8 L540.5,541.6 L540.9,544.4 L541.2,547.3 L541.5,550.2 L541.9,553.1 L542.2,556.0 L542.5,558.9 L542.9,561.9 L543.2,564.8 L543.5,567.8 L543.9,570.7 L544.2,573.7 L544.6,576.6 L544.9,579.6 L545.2,582.5 L545.6,585.4 L545.9,588.2 L546.2,591.1 L546.6,593.9 L546.9,596.7 L547.2,599.4 L547.6,602.0 L547.9,604.6 L548.2,607.1 L548.6,609.6 L548.9,611.9 L549.3,614.1 L549.6,616.2 L549.9,618.1 L550.3,619.8 L550.6,621.4 L550.9,622.6 L551.3,623.6 L551.6,624.3 L551.9,624.7 L552.3,624.7 L552.6,624.5 L553.0,624.0 L553.3,623.2 L553.6,622.2 L554.0,621.0 L554.3,619.7 L554.6,618.3 L555.0,616.7 L555.3,615.1 L555.6,613.5 L556.0,611.8 L556.3,610.1 L556.6,608.4 L557.0,606.7 L557.3,604.9 L557.7,603.2 L558.0,601.5 L558.3,599.8 L558.7,598.0 L559.0,596.3 L559.3,594.7 L559.7,593.0 L560.0,591.3 L560.3,589.7 L560.7,588.0 L561.0,586.4 L561.4,584.8 L561.7,583.2 L562.0,581.6 L562.4,580.0 L562.7,578.4 L563.0,576.8 L563.4,575.2 L563.7,573.6 L564.0,572.0 L564.4,570.5 L564.7,568.9 L565.0,567.3 L565.4,565.7 L565.7,564.1 L566.1,562.5 L566.4,560.8 L566.7,559.2 L567.1,557.6 L567.4,555.9 L567.7,554.3 L568.1,552.6 L568.4,550.9 L568.7,549.2 L569.1,547.5 L569.4,545.8 L569.8,544.1 L570.1,542.4 L570.4,540.7 L570.8,538.9 L571.1,537.2 L571.4,535.4 L571.8,533.7 L572.1,531.9 L572.4,530.2 L572.8,528.4 L573.1,526.7 L573.4,524.9 L573.8,523.2 L574.1,521.5 L574.5,519.7 L574.8,518.0 L575.1,516.3 L575.5,514.7 L575.8,513.0 L576.1,511.4 L576.5,509.7 L576.8,508.1 L577.1,506.6 L577.5,505.1 L577.8,503.6 L578.2,502.1 L578.5,500.7 L578.8,499.3 L579.2,497.9 L579.5,496.6 L579.8,495.4 L580.2,494.1 L580.5,493.0 L580.8,491.9 L581.2,490.8 L581.5,489.8 L581.8,488.9 L582.2,488.0 L582.5,487.2 L582.9,486.4 L583.2,485.7 L583.5,485.1 L583.9,484.5 L584.2,484.0 L584.5,483.6 L584.9,483.2 L585.2,482.9 L585.5,482.7 L585.9,482.6 L586.2,482.5 L586.6,482.6 L586.9,482.6 L587.2,482.8 L587.6,483.1 L587.9,483.4 L588.2,483.8 L588.6,484.3 L588.9,484.8 L589.2,485.5 L589.6,486.2 L589.9,487.0 L590.2,487.9 L590.6,488.8 L590.9,489.8 L591.3,490.9 L591.6,492.1 L591.9,493.4 L592.3,494.7 L592.6,496.1 L592.9,497.6 L593.3,499.2 L593.6,500.8 L593.9,502.5 L594.3,504.2 L594.6,506.1 L595.0,508.0 L595.3,509.9 L595.6,511.9 L596.0,514.0 L596.3,516.2 L596.6,518.4 L597.0,520.6 L597.3,522.9 L597.6,525.3 L598.0,527.7 L598.3,530.1 L598.6,532.6 L599.0,535.2 L599.3,537.7 L599.7,540.4 L600.0,543.0 L600.3,545.7 L600.7,548.4 L601.0,551.1 L601.3,553.9 L601.7,556.7 L602.0,559.5 L602.3,562.3 L602.7,565.2 L603.0,568.0 L603.4,570.9 L603.7,573.7 L604.0,576.6 L604.4,579.4 L604.7,582.3 L605.0,585.1 L605.4,588.0 L605.7,590.8 L606.0,593.6 L606.4,596.3 L606.7,599.0 L607.0,601.7 L607.4,604.4 L607.7,606.9 L608.1,609.4 L608.4,611.9 L608.7,614.2 L609.1,616.4 L609.4,618.5 L609.7,620.4 L610.1,622.2 L610.4,623.7 L610.7,624.9 L611.1,625.9 L611.4,626.5 L611.8,626.8 L612.1,626.7 L612.4,626.3 L612.8,625.5 L613.1,624.6 L613.4,623.4 L613.8,622.0 L614.1,620.5 L614.4,618.9 L614.8,617.2 L615.1,615.5 L615.4,613.7 L615.8,611.9 L616.1,610.0 L616.5,608.2 L616.8,606.3 L617.1,604.5 L617.5,602.7 L617.8,600.8 L618.1,599.0 L618.5,597.2 L618.8,595.4 L619.1,593.7 L619.5,591.9 L619.8,590.2 L620.2,588.5 L620.5,586.8 L620.8,585.1 L621.2,583.4 L621.5,581.8 L621.8,580.1 L622.2,578.5 L622.5,576.9 L622.8,575.3 L623.2,573.7 L623.5,572.1 L623.8,570.5 L624.2,569.0 L624.5,567.4 L624.9,565.8 L625.2,564.3 L625.5,562.7 L625.9,561.2 L626.2,559.6 L626.5,558.0 L626.9,556.5 L627.2,554.9 L627.5,553.4 L627.9,551.8 L628.2,550.3 L628.6,548.7 L628.9,547.1 L629.2,545.6 L629.6,544.0 L629.9,542.4 L630.2,540.8 L630.6,539.3 L630.9,537.7 L631.2,536.1 L631.6,534.5 L631.9,533.0 L632.2,531.4 L632.6,529.8 L632.9,528.2 L633.3,526.7 L633.6,525.1 L633.9,523.6 L634.3,522.1 L634.6,520.6 L634.9,519.1 L635.3,517.6 L635.6,516.1 L635.9,514.7 L636.3,513.2 L636.6,511.8 L637.0,510.4 L637.3,509.1 L637.6,507.8 L638.0,506.5 L638.3,505.2 L638.6,504.0 L639.0,502.8 L639.3,501.7 L639.6,500.6 L640.0,499.5 L640.3,498.5 L640.6,497.5 L641.0,496.6 L641.3,495.7 L641.7,494.9 L642.0,494.1 L642.3,493.4 L642.7,492.7 L643.0,492.1 L643.3,491.6 L643.7,491.1 L644.0,490.7 L644.3,490.3 L644.7,490.0 L645.0,489.8 L645.4,489.6 L645.7,489.5 L646.0,489.5 L646.4,489.6 L646.7,489.7 L647.0,489.9 L647.4,490.1 L647.7,490.4 L648.0,490.8 L648.4,491.3 L648.7,491.9 L649.0,492.5 L649.4,493.2 L649.7,493.9 L650.1,494.8 L650.4,495.7 L650.7,496.7 L651.1,497.7 L651.4,498.8 L651.7,500.0 L652.1,501.3 L652.4,502.6 L652.7,504.0 L653.1,505.5 L653.4,507.0 L653.8,508.6 L654.1,510.3 L654.4,512.0 L654.8,513.8 L655.1,515.7 L655.4,517.6 L655.8,519.6 L656.1,521.6 L656.4,523.7 L656.8,525.8 L657.1,528.0 L657.4,530.3 L657.8,532.5 L658.1,534.9 L658.5,537.3 L658.8,539.7 L659.1,542.1 L659.5,544.6 L659.8,547.2 L660.1,549.7 L660.5,552.3 L660.8,555.0 L661.1,557.6 L661.5,560.3 L661.8,563.0 L662.2,565.7 L662.5,568.5 L662.8,571.2 L663.2,574.0 L663.5,576.8 L663.8,579.5 L664.2,582.3 L664.5,585.1 L664.8,587.9 L665.2,590.6 L665.5,593.4 L665.8,596.1 L666.2,598.8 L666.5,601.5 L666.9,604.2 L667.2,606.8 L667.5,609.4 L667.9,611.9 L668.2,614.3 L668.5,616.7 L668.9,618.9 L669.2,621.0 L669.5,623.0 L669.9,624.8 L670.2,626.3 L670.6,627.5 L670.9,628.5 L671.2,629.0 L671.6,629.1 L671.9,628.9 L672.2,628.3 L672.6,627.4 L672.9,626.2 L673.2,624.8 L673.6,623.2 L673.9,621.5 L674.2,619.7 L674.6,617.9 L674.9,616.0 L675.3,614.1 L675.6,612.1 L675.9,610.2 L676.3,608.2 L676.6,606.3 L676.9,604.4 L677.3,602.4 L677.6,600.5 L677.9,598.6 L678.3,596.8 L678.6,594.9 L679.0,593.1 L679.3,591.3 L679.6,589.5 L680.0,587.7 L680.3,585.9 L680.6,584.2 L681.0,582.5 L681.3,580.8 L681.6,579.1 L682.0,577.5 L682.3,575.8 L682.6,574.2 L683.0,572.6 L683.3,571.0 L683.7,569.4 L684.0,567.9 L684.3,566.3 L684.7,564.8 L685.0,563.2 L685.3,561.7 L685.7,560.2 L686.0,558.7 L686.3,557.2 L686.7,555.7 L687.0,554.2 L687.4,552.7 L687.7,551.2 L688.0,549.8 L688.4,548.3 L688.7,546.8 L689.0,545.4 L689.4,543.9 L689.7,542.5 L690.0,541.0 L690.4,539.6 L690.7,538.1 L691.0,536.7 L691.4,535.2 L691.7,533.8 L692.1,532.4 L692.4,531.0 L692.7,529.6 L693.1,528.2 L693.4,526.8 L693.7,525.4 L694.1,524.1 L694.4,522.7 L694.7,521.4 L695.1,520.1 L695.4,518.8 L695.8,517.5 L696.1,516.2 L696.4,515.0 L696.8,513.8 L697.1,512.6 L697.4,511.4 L697.8,510.3 L698.1,509.2 L698.4,508.1 L698.8,507.1 L699.1,506.1 L699.4,505.1 L699.8,504.2 L700.1,503.3 L700.5,502.5 L700.8,501.7 L701.1,500.9 L701.5,500.2 L701.8,499.5 L702.1,498.9 L702.5,498.4 L702.8,497.9 L703.1,497.4 L703.5,497.0 L703.8,496.7 L704.2,496.4 L704.5,496.2 L704.8,496.0 L705.2,495.9 L705.5,495.8 L705.8,495.8 L706.2,495.9 L706.5,496.1 L706.8,496.3 L707.2,496.6 L707.5,496.9 L707.8,497.3 L708.2,497.8 L708.5,498.3 L708.9,498.9 L709.2,499.6 L709.5,500.3 L709.9,501.2 L710.2,502.0 L710.5,503.0 L710.9,504.0 L711.2,505.1 L711.5,506.2 L711.9,507.4 L712.2,508.7 L712.6,510.0 L712.9,511.4 L713.2,512.9 L713.6,514.4 L713.9,516.0 L714.2,517.7 L714.6,519.4 L714.9,521.1 L715.2,523.0 L715.6,524.9 L715.9,526.8 L716.2,528.8 L716.6,530.8 L716.9,532.9 L717.3,535.0 L717.6,537.2 L717.9,539.5 L718.3,541.7 L718.6,544.1" stroke="#0a0ae0" stroke-width="1.55" stroke-dasharray="4.4 4.6"/>
</g>
<path d="M719.7,378.1 H45.1 M45.1,646.7 H719.7" fill="none" stroke="#000" stroke-width="2.2"/>
<path d="M46.6,377.0 V647.8000000000001" fill="none" stroke="#000" stroke-width="3"/>
<path d="M718.6,378.1 V646.7" fill="none" stroke="#000" stroke-width="2.4" stroke-dasharray="5 4.69"/>
<path d="M181.00,646.7 V641.7 M315.40,646.7 V641.7 M449.80,646.7 V641.7 M584.20,646.7 V641.7 M46.6,592.98 H51.4 M46.6,539.26 H51.4 M46.6,485.54 H51.4 M46.6,431.82 H51.4" stroke="#000" stroke-width="2" fill="none"/>
<text class="tk" transform="translate(42.3 388.4) scale(0.978 1.045)" text-anchor="end">1</text>
<text class="tk" transform="translate(42.3 442.1) scale(0.978 1.045)" text-anchor="end">0.8</text>
<text class="tk" transform="translate(42.3 495.8) scale(0.978 1.045)" text-anchor="end">0.6</text>
<text class="tk" transform="translate(42.3 549.5) scale(0.978 1.045)" text-anchor="end">0.4</text>
<text class="tk" transform="translate(42.3 603.2) scale(0.978 1.045)" text-anchor="end">0.2</text>
<text class="tk" transform="translate(46.6 676.9) scale(1.000 1.045)" text-anchor="middle">0</text>
<text class="tk" transform="translate(181.0 676.9) scale(1.000 1.045)" text-anchor="middle">10</text>
<text class="tk" transform="translate(315.4 676.9) scale(1.000 1.045)" text-anchor="middle">20</text>
<text class="tk" transform="translate(449.8 676.9) scale(1.000 1.045)" text-anchor="middle">30</text>
<text class="tk" transform="translate(584.2 676.9) scale(1.000 1.045)" text-anchor="middle">40</text>
<text class="tk" transform="translate(718.6 676.9) scale(1.000 1.045)" text-anchor="middle">50</text>
<text class="ax" transform="translate(514.4 716.4) scale(1.02 0.98)">Δ<tspan font-style="italic" font-size="20.5px" dy="5">a</tspan><tspan dy="-5" dx="0.5">t</tspan></text>
<text class="ti" y="408.4" font-size="28px"><tspan x="431.8" font-style="italic" font-size="30px">g</tspan><tspan x="447.6" dy="5" font-size="20px">ma</tspan><tspan x="474.2" dy="-0.1" font-size="36px">/</tspan><tspan x="486.8" dy="-4.9" font-size="28.5px">Δ</tspan><tspan x="505.3" dy="5.7" font-style="italic" font-size="19.5px">a</tspan><tspan x="516.0" dy="-4.6" font-family="Liberation Sans" font-size="29px">=</tspan><tspan x="534.2" dy="-1.1" font-size="28px">1</tspan></text>
<g fill="none">
<path d="M763.5,511.63 H970.8" stroke="#ee0a0a" stroke-width="1.7"/>
<path d="M763.50,582.75 L764.54,582.06 L765.57,581.57 L766.61,581.24 L767.65,581.04 L768.68,580.94 L769.72,580.92 L770.76,580.96 L771.79,581.05 L772.83,581.17 L773.87,581.30 L774.90,581.41 L775.94,581.49 L776.97,581.54 L778.01,581.53 L779.05,581.48 L780.08,581.39 L781.12,581.27 L782.16,581.13 L783.19,580.99 L784.23,580.87 L785.27,580.78 L786.30,580.73 L787.34,580.74 L788.38,580.79 L789.41,580.88 L790.45,581.00 L791.49,581.14 L792.52,581.28 L793.56,581.40 L794.60,581.49 L795.63,581.53 L796.67,581.53 L797.70,581.48 L798.74,581.38 L799.78,581.26 L800.81,581.12 L801.85,580.98 L802.89,580.86 L803.92,580.77 L804.96,580.73 L806.00,580.74 L807.03,580.79 L808.07,580.88 L809.11,581.01 L810.14,581.15 L811.18,581.29 L812.22,581.40 L813.25,581.49 L814.29,581.53 L815.33,581.53 L816.36,581.47 L817.40,581.38 L818.43,581.25 L819.47,581.11 L820.51,580.97 L821.54,580.86 L822.58,580.77 L823.62,580.73 L824.65,580.74 L825.69,580.79 L826.73,580.89 L827.76,581.02 L828.80,581.16 L829.84,581.29 L830.87,581.41 L831.91,581.49 L832.95,581.53 L833.98,581.52 L835.02,581.47 L836.05,581.37 L837.09,581.24 L838.13,581.10 L839.16,580.97 L840.20,580.85 L841.24,580.77 L842.27,580.73 L843.31,580.74 L844.35,580.80 L845.38,580.90 L846.42,581.02 L847.46,581.16 L848.49,581.30 L849.53,581.41 L850.57,581.50 L851.60,581.53 L852.64,581.52 L853.68,581.46 L854.71,581.37 L855.75,581.24 L856.78,581.10 L857.82,580.96 L858.86,580.85 L859.89,580.77 L860.93,580.73 L861.97,580.74 L863.00,580.80 L864.04,580.90 L865.08,581.03 L866.11,581.17 L867.15,581.30 L868.19,581.42 L869.22,581.50 L870.26,581.53 L871.30,581.52 L872.33,581.46 L873.37,581.36 L874.41,581.23 L875.44,581.09 L876.48,580.96 L877.51,580.84 L878.55,580.76 L879.59,580.73 L880.62,580.74 L881.66,580.81 L882.70,580.91 L883.73,581.04 L884.77,581.18 L885.81,581.31 L886.84,581.42 L887.88,581.50 L888.92,581.54 L889.95,581.52 L890.99,581.46 L892.03,581.35 L893.06,581.22 L894.10,581.08 L895.14,580.95 L896.17,580.84 L897.21,580.76 L898.25,580.73 L899.28,580.75 L900.32,580.81 L901.35,580.91 L902.39,581.04 L903.43,581.18 L904.46,581.32 L905.50,581.43 L906.54,581.50 L907.57,581.54 L908.61,581.52 L909.65,581.45 L910.68,581.35 L911.72,581.22 L912.76,581.08 L913.79,580.94 L914.83,580.83 L915.87,580.76 L916.90,580.73 L917.94,580.75 L918.97,580.81 L920.01,580.92 L921.05,581.05 L922.08,581.19 L923.12,581.32 L924.16,581.43 L925.19,581.51 L926.23,581.54 L927.27,581.52 L928.30,581.45 L929.34,581.34 L930.38,581.21 L931.41,581.07 L932.45,580.94 L933.49,580.83 L934.52,580.75 L935.56,580.73 L936.60,580.75 L937.63,580.82 L938.67,580.92 L939.70,581.06 L940.74,581.20 L941.78,581.33 L942.81,581.44 L943.85,581.51 L944.89,581.54 L945.92,581.51 L946.96,581.44 L948.00,581.34 L949.03,581.20 L950.07,581.06 L951.11,580.93 L952.14,580.82 L953.18,580.75 L954.22,580.73 L955.25,580.75 L956.29,580.82 L957.33,580.93 L958.36,581.06 L959.40,581.20 L960.43,581.33 L961.47,581.44 L962.51,581.51 L963.54,581.54 L964.58,581.51 L965.62,581.44 L966.65,581.33 L967.69,581.20 L968.73,581.06 L969.76,580.93 L970.80,580.82" stroke="#0a0ae0" stroke-width="1.7" stroke-dasharray="5 4"/>
</g>
<path d="M762.4,377.6 H970.8 V647.0 H762.4" fill="none" stroke="#000" stroke-width="2.7"/>
<path d="M763.5,377.6 V647.0" fill="none" stroke="#000" stroke-width="2.2" stroke-dasharray="4.6 5.15"/>
<path d="M867.15,647.0 V642.0 M763.5,593.12 H767.7 M763.5,539.24 H767.7 M763.5,485.36 H767.7 M763.5,431.48 H767.7" stroke="#000" stroke-width="2" fill="none"/>
<text class="tk" transform="translate(763.8 677.1) scale(1.000 1.045)" text-anchor="middle">450</text>
<text class="tk" transform="translate(867.1 677.1) scale(1.000 1.045)" text-anchor="middle">475</text>
<text class="tk" transform="translate(970.0 677.1) scale(1.000 1.045)" text-anchor="middle">500</text>
<path d="M813.8,399.9 H856.8" stroke="#ee0a0a" stroke-width="2.3" fill="none"/>
<path d="M814.7,433.5 H856.4" stroke="#0a0ae0" stroke-width="2.1" stroke-dasharray="5 4.8" fill="none"/>
<text class="lb" x="864.0" y="403.5">|</text>
<text class="sc" transform="translate(868.6 403.6) scale(1.22 1)">𝒰</text>
<text class="ls" x="891.5" y="408.1">11</text>
<text class="lb" x="912.0" y="403.5">|</text>
<text class="lb" x="864.0" y="437.6">|</text>
<text class="sc" transform="translate(868.6 437.7) scale(1.22 1)">𝒰</text>
<text class="ls" x="891.5" y="442.2">22</text>
<text class="lb" x="912.0" y="437.6">|</text>
<text class="ti" x="925.0" y="407.6" font-size="33px">(b)</text>
</svg></body></html>
